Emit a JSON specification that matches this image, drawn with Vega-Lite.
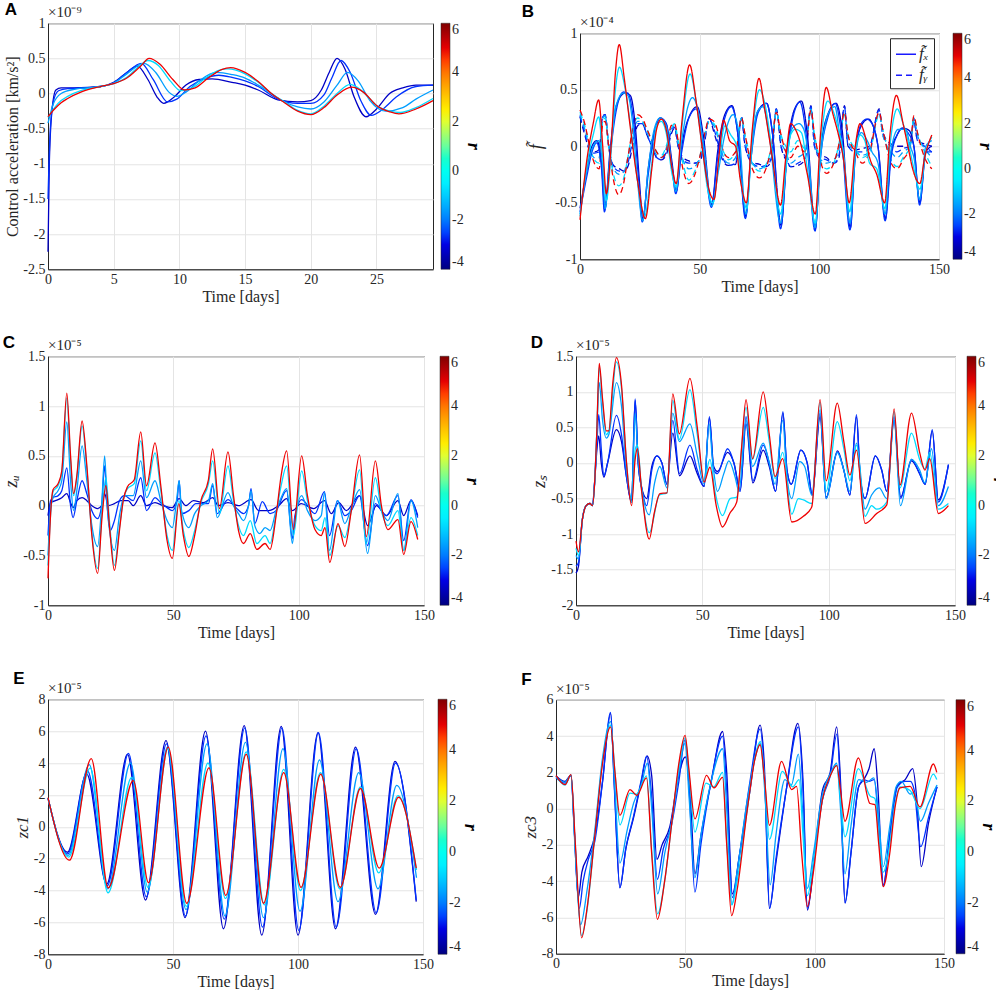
{
  "$schema": "https://vega.github.io/schema/vega-lite/v6.json",
  "background": "white",
  "padding": {"left": 2, "top": 0, "right": 0, "bottom": 0},
  "config": {
    "view": {"stroke": "#262626", "strokeWidth": 1},
    "axis": {
      "labelFont": "Liberation Serif", "labelFontSize": 14, "labelColor": "#262626",
      "titleFont": "Liberation Serif", "titleFontSize": 16, "titleFontWeight": "normal", "titleColor": "#262626",
      "domainColor": "#262626", "ticks": false, "labelPadding": 3, "titlePadding": 2,
      "gridColor": "#e4e4e4", "grid": true, "labelOverlap": false, "labelFlush": false,
      "labelExpr": "replace(format(datum.value, '~g'), '\u2212', '-')"
    },
    "legend": {
      "labelFont": "Liberation Serif", "labelFontSize": 14, "labelColor": "#262626", "labelOffset": 2,
      "titleFont": "Liberation Serif", "titleColor": "black", "titlePadding": 0, "labelOverlap": false
    },
    "title": {"font": "Liberation Sans", "fontSize": 17, "fontWeight": "bold", "anchor": "start", "frame": "bounds", "color": "black", "offset": -14},
    "line": {"strokeWidth": 1.3, "interpolate": "monotone", "clip": true},
    "text": {"font": "Liberation Serif", "fontSize": 15, "color": "#262626", "align": "left", "baseline": "bottom", "dy": -3}
  },
  "datasets": {
    "A": [
      {"r":-3.3,"t":0,"v":-2.25},{"r":-3.3,"t":0.1,"v":-1.0},{"r":-3.3,"t":0.3,"v":-0.25},{"r":-3.3,"t":0.6,"v":0.05},{"r":-3.3,"t":1,"v":0.08},{"r":-3.3,"t":2,"v":0.08},{"r":-3.3,"t":4,"v":0.1},{"r":-3.3,"t":5,"v":0.16},{"r":-3.3,"t":6,"v":0.3},{"r":-3.3,"t":6.8,"v":0.39},{"r":-3.3,"t":7.6,"v":0.2},{"r":-3.3,"t":8.3,"v":-0.05},{"r":-3.3,"t":8.8,"v":-0.14},{"r":-3.3,"t":9.6,"v":-0.05},{"r":-3.3,"t":10.5,"v":0.12},{"r":-3.3,"t":11.5,"v":0.2},{"r":-3.3,"t":12.5,"v":0.21},{"r":-3.3,"t":14,"v":0.16},{"r":-3.3,"t":15,"v":0.12},{"r":-3.3,"t":16,"v":0.05},{"r":-3.3,"t":17.5,"v":-0.09},{"r":-3.3,"t":19,"v":-0.12},{"r":-3.3,"t":20,"v":-0.1},{"r":-3.3,"t":20.8,"v":0.05},{"r":-3.3,"t":21.4,"v":0.3},{"r":-3.3,"t":22,"v":0.5},{"r":-3.3,"t":22.6,"v":0.35},{"r":-3.3,"t":23.3,"v":-0.05},{"r":-3.3,"t":24.2,"v":-0.33},{"r":-3.3,"t":25,"v":-0.22},{"r":-3.3,"t":26,"v":0},{"r":-3.3,"t":27,"v":0.08},{"r":-3.3,"t":28,"v":0.12},{"r":-3.3,"t":29.3,"v":0.12},
      {"r":-2.6,"t":0,"v":-1.5},{"r":-2.6,"t":0.15,"v":-0.6},{"r":-2.6,"t":0.4,"v":-0.12},{"r":-2.6,"t":0.8,"v":0.04},{"r":-2.6,"t":1.5,"v":0.07},{"r":-2.6,"t":3,"v":0.08},{"r":-2.6,"t":4,"v":0.1},{"r":-2.6,"t":5,"v":0.15},{"r":-2.6,"t":6,"v":0.3},{"r":-2.6,"t":7.1,"v":0.43},{"r":-2.6,"t":8,"v":0.2},{"r":-2.6,"t":9.1,"v":-0.12},{"r":-2.6,"t":9.8,"v":-0.08},{"r":-2.6,"t":10.8,"v":0.1},{"r":-2.6,"t":12,"v":0.22},{"r":-2.6,"t":13,"v":0.26},{"r":-2.6,"t":14,"v":0.23},{"r":-2.6,"t":15,"v":0.18},{"r":-2.6,"t":16,"v":0.1},{"r":-2.6,"t":17.5,"v":-0.08},{"r":-2.6,"t":19,"v":-0.14},{"r":-2.6,"t":20,"v":-0.14},{"r":-2.6,"t":21,"v":-0.02},{"r":-2.6,"t":21.6,"v":0.22},{"r":-2.6,"t":22.3,"v":0.47},{"r":-2.6,"t":23,"v":0.3},{"r":-2.6,"t":23.8,"v":-0.1},{"r":-2.6,"t":24.6,"v":-0.31},{"r":-2.6,"t":25.5,"v":-0.22},{"r":-2.6,"t":26.5,"v":-0.05},{"r":-2.6,"t":28,"v":0.1},{"r":-2.6,"t":29.3,"v":0.12},
      {"r":-1.6,"t":0,"v":-0.42},{"r":-1.6,"t":0.4,"v":-0.15},{"r":-1.6,"t":1,"v":0},{"r":-1.6,"t":2,"v":0.06},{"r":-1.6,"t":4,"v":0.1},{"r":-1.6,"t":5,"v":0.15},{"r":-1.6,"t":6,"v":0.28},{"r":-1.6,"t":7.3,"v":0.43},{"r":-1.6,"t":8.2,"v":0.3},{"r":-1.6,"t":9.2,"v":0.02},{"r":-1.6,"t":9.8,"v":-0.04},{"r":-1.6,"t":10.5,"v":0.02},{"r":-1.6,"t":11.5,"v":0.18},{"r":-1.6,"t":12.8,"v":0.3},{"r":-1.6,"t":14,"v":0.27},{"r":-1.6,"t":15,"v":0.22},{"r":-1.6,"t":16,"v":0.12},{"r":-1.6,"t":17,"v":0},{"r":-1.6,"t":18,"v":-0.12},{"r":-1.6,"t":19,"v":-0.19},{"r":-1.6,"t":20,"v":-0.22},{"r":-1.6,"t":21,"v":-0.12},{"r":-1.6,"t":22,"v":0.12},{"r":-1.6,"t":22.8,"v":0.3},{"r":-1.6,"t":23.6,"v":0.18},{"r":-1.6,"t":24.5,"v":-0.1},{"r":-1.6,"t":25.7,"v":-0.25},{"r":-1.6,"t":27,"v":-0.2},{"r":-1.6,"t":28,"v":-0.08},{"r":-1.6,"t":29.3,"v":0.05},
      {"r":-0.8,"t":0,"v":-0.34},{"r":-0.8,"t":0.5,"v":-0.2},{"r":-0.8,"t":1,"v":-0.1},{"r":-0.8,"t":1.5,"v":-0.04},{"r":-0.8,"t":2.5,"v":0.04},{"r":-0.8,"t":4,"v":0.1},{"r":-0.8,"t":5,"v":0.14},{"r":-0.8,"t":6,"v":0.23},{"r":-0.8,"t":7,"v":0.4},{"r":-0.8,"t":7.6,"v":0.47},{"r":-0.8,"t":8.4,"v":0.4},{"r":-0.8,"t":9.3,"v":0.18},{"r":-0.8,"t":10.1,"v":0.04},{"r":-0.8,"t":11,"v":0.08},{"r":-0.8,"t":12,"v":0.22},{"r":-0.8,"t":13,"v":0.33},{"r":-0.8,"t":13.7,"v":0.35},{"r":-0.8,"t":15,"v":0.28},{"r":-0.8,"t":16,"v":0.16},{"r":-0.8,"t":17,"v":0},{"r":-0.8,"t":18,"v":-0.12},{"r":-0.8,"t":19,"v":-0.24},{"r":-0.8,"t":20,"v":-0.29},{"r":-0.8,"t":21,"v":-0.18},{"r":-0.8,"t":22,"v":0},{"r":-0.8,"t":23,"v":0.13},{"r":-0.8,"t":24,"v":0.02},{"r":-0.8,"t":25,"v":-0.17},{"r":-0.8,"t":26,"v":-0.25},{"r":-0.8,"t":26.8,"v":-0.27},{"r":-0.8,"t":28,"v":-0.2},{"r":-0.8,"t":29.3,"v":-0.07},
      {"r":4.9,"t":0,"v":-0.33},{"r":4.9,"t":0.5,"v":-0.22},{"r":4.9,"t":1,"v":-0.13},{"r":4.9,"t":1.5,"v":-0.07},{"r":4.9,"t":2.5,"v":0.02},{"r":4.9,"t":4,"v":0.1},{"r":4.9,"t":5,"v":0.14},{"r":4.9,"t":6,"v":0.22},{"r":4.9,"t":7,"v":0.38},{"r":4.9,"t":7.7,"v":0.5},{"r":4.9,"t":8.5,"v":0.42},{"r":4.9,"t":9.5,"v":0.2},{"r":4.9,"t":10.4,"v":0.05},{"r":4.9,"t":11.2,"v":0.08},{"r":4.9,"t":12.2,"v":0.22},{"r":4.9,"t":13.2,"v":0.34},{"r":4.9,"t":13.9,"v":0.37},{"r":4.9,"t":15,"v":0.3},{"r":4.9,"t":16,"v":0.17},{"r":4.9,"t":17,"v":0},{"r":4.9,"t":18,"v":-0.13},{"r":4.9,"t":19,"v":-0.25},{"r":4.9,"t":20,"v":-0.3},{"r":4.9,"t":21,"v":-0.2},{"r":4.9,"t":22,"v":-0.02},{"r":4.9,"t":23.1,"v":0.09},{"r":4.9,"t":24,"v":0.02},{"r":4.9,"t":25,"v":-0.17},{"r":4.9,"t":26,"v":-0.26},{"r":4.9,"t":26.7,"v":-0.29},{"r":4.9,"t":28,"v":-0.22},{"r":4.9,"t":29.3,"v":-0.1}
    ],
    "B": [
      {"k":"y","r":-3.3,"t":0,"v":0.26},{"k":"y","r":-3.3,"t":2,"v":0.1},{"k":"y","r":-3.3,"t":4,"v":-0.03},{"k":"y","r":-3.3,"t":6,"v":-0.05},{"k":"y","r":-3.3,"t":8,"v":-0.03},{"k":"y","r":-3.3,"t":9.5,"v":0.27},{"k":"y","r":-3.3,"t":10.5,"v":0.28},{"k":"y","r":-3.3,"t":12,"v":0},{"k":"y","r":-3.3,"t":14,"v":-0.17},{"k":"y","r":-3.3,"t":16.5,"v":-0.2},{"k":"y","r":-3.3,"t":18.5,"v":-0.22},{"k":"y","r":-3.3,"t":20,"v":-0.18},{"k":"y","r":-3.3,"t":22,"v":0},{"k":"y","r":-3.3,"t":24,"v":0.18},{"k":"y","r":-3.3,"t":26,"v":0.2},{"k":"y","r":-3.3,"t":28,"v":0.1},{"k":"y","r":-3.3,"t":30,"v":0},{"k":"y","r":-3.3,"t":32,"v":-0.1},{"k":"y","r":-3.3,"t":34,"v":-0.12},{"k":"y","r":-3.3,"t":36,"v":-0.08},{"k":"y","r":-3.3,"t":38,"v":0.1},{"k":"y","r":-3.3,"t":39.5,"v":0.16},{"k":"y","r":-3.3,"t":41,"v":0},{"k":"y","r":-3.3,"t":43,"v":-0.1},{"k":"y","r":-3.3,"t":45.5,"v":-0.13},{"k":"y","r":-3.3,"t":48,"v":-0.15},{"k":"y","r":-3.3,"t":50,"v":-0.14},{"k":"y","r":-3.3,"t":52,"v":0.03},{"k":"y","r":-3.3,"t":54,"v":0.25},{"k":"y","r":-3.3,"t":56,"v":0.12},{"k":"y","r":-3.3,"t":58,"v":-0.02},{"k":"y","r":-3.3,"t":60,"v":-0.14},{"k":"y","r":-3.3,"t":62,"v":-0.17},{"k":"y","r":-3.3,"t":65,"v":-0.16},{"k":"y","r":-3.3,"t":67.5,"v":0.26},{"k":"y","r":-3.3,"t":69,"v":0},{"k":"y","r":-3.3,"t":72,"v":-0.14},{"k":"y","r":-3.3,"t":75,"v":-0.16},{"k":"y","r":-3.3,"t":78,"v":-0.18},{"k":"y","r":-3.3,"t":80,"v":-0.12},{"k":"y","r":-3.3,"t":82,"v":0.33},{"k":"y","r":-3.3,"t":84,"v":0},{"k":"y","r":-3.3,"t":86,"v":-0.12},{"k":"y","r":-3.3,"t":88,"v":-0.18},{"k":"y","r":-3.3,"t":91,"v":-0.17},{"k":"y","r":-3.3,"t":94,"v":-0.12},{"k":"y","r":-3.3,"t":96.5,"v":0.36},{"k":"y","r":-3.3,"t":98,"v":0},{"k":"y","r":-3.3,"t":100,"v":-0.08},{"k":"y","r":-3.3,"t":103,"v":-0.1},{"k":"y","r":-3.3,"t":106,"v":-0.15},{"k":"y","r":-3.3,"t":108,"v":-0.12},{"k":"y","r":-3.3,"t":110.5,"v":0.36},{"k":"y","r":-3.3,"t":112,"v":0},{"k":"y","r":-3.3,"t":115,"v":-0.03},{"k":"y","r":-3.3,"t":118,"v":-0.02},{"k":"y","r":-3.3,"t":121,"v":0},{"k":"y","r":-3.3,"t":125,"v":0.33},{"k":"y","r":-3.3,"t":126.5,"v":0.12},{"k":"y","r":-3.3,"t":130,"v":0.02},{"k":"y","r":-3.3,"t":132.5,"v":0},{"k":"y","r":-3.3,"t":135,"v":0},{"k":"y","r":-3.3,"t":138,"v":0.02},{"k":"y","r":-3.3,"t":139.5,"v":0.23},{"k":"y","r":-3.3,"t":141,"v":0.05},{"k":"y","r":-3.3,"t":144,"v":0.02},{"k":"y","r":-3.3,"t":147,"v":0},
      {"k":"y","r":-2.6,"t":0,"v":0.27},{"k":"y","r":-2.6,"t":2,"v":0.12},{"k":"y","r":-2.6,"t":4,"v":-0.03},{"k":"y","r":-2.6,"t":6,"v":-0.06},{"k":"y","r":-2.6,"t":8,"v":-0.05},{"k":"y","r":-2.6,"t":9.5,"v":0.26},{"k":"y","r":-2.6,"t":10.5,"v":0.28},{"k":"y","r":-2.6,"t":12,"v":0},{"k":"y","r":-2.6,"t":14,"v":-0.18},{"k":"y","r":-2.6,"t":16.5,"v":-0.22},{"k":"y","r":-2.6,"t":18.5,"v":-0.22},{"k":"y","r":-2.6,"t":20,"v":-0.15},{"k":"y","r":-2.6,"t":22,"v":0.05},{"k":"y","r":-2.6,"t":24,"v":0.2},{"k":"y","r":-2.6,"t":26,"v":0.2},{"k":"y","r":-2.6,"t":28,"v":0.1},{"k":"y","r":-2.6,"t":30,"v":0},{"k":"y","r":-2.6,"t":32,"v":-0.1},{"k":"y","r":-2.6,"t":34,"v":-0.12},{"k":"y","r":-2.6,"t":36,"v":-0.05},{"k":"y","r":-2.6,"t":38,"v":0.12},{"k":"y","r":-2.6,"t":39.5,"v":0.17},{"k":"y","r":-2.6,"t":41,"v":0},{"k":"y","r":-2.6,"t":43,"v":-0.12},{"k":"y","r":-2.6,"t":45.5,"v":-0.15},{"k":"y","r":-2.6,"t":48,"v":-0.15},{"k":"y","r":-2.6,"t":50,"v":-0.12},{"k":"y","r":-2.6,"t":52,"v":0.05},{"k":"y","r":-2.6,"t":54,"v":0.24},{"k":"y","r":-2.6,"t":56,"v":0.15},{"k":"y","r":-2.6,"t":58,"v":0},{"k":"y","r":-2.6,"t":60,"v":-0.12},{"k":"y","r":-2.6,"t":62,"v":-0.17},{"k":"y","r":-2.6,"t":65,"v":-0.15},{"k":"y","r":-2.6,"t":67.5,"v":0.25},{"k":"y","r":-2.6,"t":69,"v":0},{"k":"y","r":-2.6,"t":72,"v":-0.15},{"k":"y","r":-2.6,"t":75,"v":-0.18},{"k":"y","r":-2.6,"t":78,"v":-0.17},{"k":"y","r":-2.6,"t":80,"v":-0.1},{"k":"y","r":-2.6,"t":82,"v":0.33},{"k":"y","r":-2.6,"t":84,"v":0},{"k":"y","r":-2.6,"t":86,"v":-0.1},{"k":"y","r":-2.6,"t":88,"v":-0.18},{"k":"y","r":-2.6,"t":91,"v":-0.15},{"k":"y","r":-2.6,"t":94,"v":-0.1},{"k":"y","r":-2.6,"t":96.5,"v":0.35},{"k":"y","r":-2.6,"t":98,"v":0},{"k":"y","r":-2.6,"t":100,"v":-0.1},{"k":"y","r":-2.6,"t":103,"v":-0.12},{"k":"y","r":-2.6,"t":106,"v":-0.15},{"k":"y","r":-2.6,"t":108,"v":-0.1},{"k":"y","r":-2.6,"t":110.5,"v":0.35},{"k":"y","r":-2.6,"t":112,"v":0},{"k":"y","r":-2.6,"t":115,"v":-0.05},{"k":"y","r":-2.6,"t":118,"v":-0.05},{"k":"y","r":-2.6,"t":121,"v":-0.02},{"k":"y","r":-2.6,"t":125,"v":0.32},{"k":"y","r":-2.6,"t":126.5,"v":0.1},{"k":"y","r":-2.6,"t":130,"v":0},{"k":"y","r":-2.6,"t":132.5,"v":-0.05},{"k":"y","r":-2.6,"t":135,"v":-0.02},{"k":"y","r":-2.6,"t":138,"v":0},{"k":"y","r":-2.6,"t":139.5,"v":0.24},{"k":"y","r":-2.6,"t":141,"v":0.05},{"k":"y","r":-2.6,"t":144,"v":0},{"k":"y","r":-2.6,"t":147,"v":-0.05},
      {"k":"y","r":-1.6,"t":0,"v":0.28},{"k":"y","r":-1.6,"t":2,"v":0.15},{"k":"y","r":-1.6,"t":4,"v":-0.02},{"k":"y","r":-1.6,"t":6,"v":-0.1},{"k":"y","r":-1.6,"t":8,"v":-0.1},{"k":"y","r":-1.6,"t":9.5,"v":0.25},{"k":"y","r":-1.6,"t":10.5,"v":0.27},{"k":"y","r":-1.6,"t":12,"v":0},{"k":"y","r":-1.6,"t":14,"v":-0.2},{"k":"y","r":-1.6,"t":16.5,"v":-0.25},{"k":"y","r":-1.6,"t":18.5,"v":-0.22},{"k":"y","r":-1.6,"t":20,"v":-0.1},{"k":"y","r":-1.6,"t":22,"v":0.1},{"k":"y","r":-1.6,"t":24,"v":0.22},{"k":"y","r":-1.6,"t":26,"v":0.22},{"k":"y","r":-1.6,"t":28,"v":0.12},{"k":"y","r":-1.6,"t":30,"v":0.02},{"k":"y","r":-1.6,"t":32,"v":-0.08},{"k":"y","r":-1.6,"t":34,"v":-0.1},{"k":"y","r":-1.6,"t":36,"v":-0.02},{"k":"y","r":-1.6,"t":38,"v":0.15},{"k":"y","r":-1.6,"t":39.5,"v":0.18},{"k":"y","r":-1.6,"t":41,"v":0.02},{"k":"y","r":-1.6,"t":43,"v":-0.12},{"k":"y","r":-1.6,"t":45.5,"v":-0.2},{"k":"y","r":-1.6,"t":48,"v":-0.18},{"k":"y","r":-1.6,"t":50,"v":-0.1},{"k":"y","r":-1.6,"t":52,"v":0.08},{"k":"y","r":-1.6,"t":54,"v":0.22},{"k":"y","r":-1.6,"t":56,"v":0.18},{"k":"y","r":-1.6,"t":58,"v":0.05},{"k":"y","r":-1.6,"t":60,"v":-0.1},{"k":"y","r":-1.6,"t":62,"v":-0.15},{"k":"y","r":-1.6,"t":65,"v":-0.1},{"k":"y","r":-1.6,"t":67.5,"v":0.25},{"k":"y","r":-1.6,"t":69,"v":0.05},{"k":"y","r":-1.6,"t":72,"v":-0.15},{"k":"y","r":-1.6,"t":75,"v":-0.2},{"k":"y","r":-1.6,"t":78,"v":-0.15},{"k":"y","r":-1.6,"t":80,"v":-0.05},{"k":"y","r":-1.6,"t":82,"v":0.32},{"k":"y","r":-1.6,"t":84,"v":0.05},{"k":"y","r":-1.6,"t":86,"v":-0.05},{"k":"y","r":-1.6,"t":88,"v":-0.15},{"k":"y","r":-1.6,"t":91,"v":-0.1},{"k":"y","r":-1.6,"t":94,"v":-0.05},{"k":"y","r":-1.6,"t":96.5,"v":0.33},{"k":"y","r":-1.6,"t":98,"v":0.05},{"k":"y","r":-1.6,"t":100,"v":-0.1},{"k":"y","r":-1.6,"t":103,"v":-0.15},{"k":"y","r":-1.6,"t":106,"v":-0.12},{"k":"y","r":-1.6,"t":108,"v":-0.05},{"k":"y","r":-1.6,"t":110.5,"v":0.3},{"k":"y","r":-1.6,"t":112,"v":0.05},{"k":"y","r":-1.6,"t":115,"v":-0.05},{"k":"y","r":-1.6,"t":118,"v":-0.08},{"k":"y","r":-1.6,"t":121,"v":-0.05},{"k":"y","r":-1.6,"t":125,"v":0.3},{"k":"y","r":-1.6,"t":126.5,"v":0.1},{"k":"y","r":-1.6,"t":130,"v":-0.05},{"k":"y","r":-1.6,"t":132.5,"v":-0.1},{"k":"y","r":-1.6,"t":135,"v":-0.05},{"k":"y","r":-1.6,"t":138,"v":0},{"k":"y","r":-1.6,"t":139.5,"v":0.25},{"k":"y","r":-1.6,"t":141,"v":0.1},{"k":"y","r":-1.6,"t":144,"v":-0.02},{"k":"y","r":-1.6,"t":147,"v":-0.1},
      {"k":"y","r":-0.8,"t":0,"v":0.3},{"k":"y","r":-0.8,"t":2,"v":0.18},{"k":"y","r":-0.8,"t":4,"v":0},{"k":"y","r":-0.8,"t":6,"v":-0.12},{"k":"y","r":-0.8,"t":8,"v":-0.15},{"k":"y","r":-0.8,"t":9.5,"v":0.22},{"k":"y","r":-0.8,"t":10.5,"v":0.25},{"k":"y","r":-0.8,"t":12,"v":0},{"k":"y","r":-0.8,"t":14,"v":-0.25},{"k":"y","r":-0.8,"t":16.2,"v":-0.35},{"k":"y","r":-0.8,"t":18,"v":-0.3},{"k":"y","r":-0.8,"t":20,"v":-0.1},{"k":"y","r":-0.8,"t":22,"v":0.15},{"k":"y","r":-0.8,"t":24,"v":0.25},{"k":"y","r":-0.8,"t":26,"v":0.22},{"k":"y","r":-0.8,"t":28,"v":0.15},{"k":"y","r":-0.8,"t":30,"v":0.05},{"k":"y","r":-0.8,"t":32,"v":-0.05},{"k":"y","r":-0.8,"t":34,"v":-0.08},{"k":"y","r":-0.8,"t":36,"v":0},{"k":"y","r":-0.8,"t":38,"v":0.15},{"k":"y","r":-0.8,"t":39.5,"v":0.2},{"k":"y","r":-0.8,"t":41,"v":0.05},{"k":"y","r":-0.8,"t":43,"v":-0.15},{"k":"y","r":-0.8,"t":45.5,"v":-0.3},{"k":"y","r":-0.8,"t":48,"v":-0.22},{"k":"y","r":-0.8,"t":50,"v":-0.1},{"k":"y","r":-0.8,"t":52,"v":0.1},{"k":"y","r":-0.8,"t":54,"v":0.22},{"k":"y","r":-0.8,"t":56,"v":0.2},{"k":"y","r":-0.8,"t":58,"v":0.08},{"k":"y","r":-0.8,"t":60,"v":-0.05},{"k":"y","r":-0.8,"t":62,"v":-0.12},{"k":"y","r":-0.8,"t":65,"v":-0.05},{"k":"y","r":-0.8,"t":67.5,"v":0.25},{"k":"y","r":-0.8,"t":69,"v":0.1},{"k":"y","r":-0.8,"t":72,"v":-0.15},{"k":"y","r":-0.8,"t":75,"v":-0.22},{"k":"y","r":-0.8,"t":78,"v":-0.15},{"k":"y","r":-0.8,"t":80,"v":0},{"k":"y","r":-0.8,"t":82,"v":0.3},{"k":"y","r":-0.8,"t":84,"v":0.1},{"k":"y","r":-0.8,"t":86,"v":0},{"k":"y","r":-0.8,"t":88,"v":-0.05},{"k":"y","r":-0.8,"t":91,"v":0.05},{"k":"y","r":-0.8,"t":94,"v":-0.02},{"k":"y","r":-0.8,"t":96.5,"v":0.3},{"k":"y","r":-0.8,"t":98,"v":0.1},{"k":"y","r":-0.8,"t":100,"v":-0.1},{"k":"y","r":-0.8,"t":103,"v":-0.2},{"k":"y","r":-0.8,"t":106,"v":-0.15},{"k":"y","r":-0.8,"t":108,"v":0},{"k":"y","r":-0.8,"t":110.5,"v":0.28},{"k":"y","r":-0.8,"t":112,"v":0.1},{"k":"y","r":-0.8,"t":115,"v":-0.02},{"k":"y","r":-0.8,"t":118,"v":-0.1},{"k":"y","r":-0.8,"t":121,"v":-0.05},{"k":"y","r":-0.8,"t":125,"v":0.28},{"k":"y","r":-0.8,"t":126.5,"v":0.15},{"k":"y","r":-0.8,"t":130,"v":-0.12},{"k":"y","r":-0.8,"t":132.5,"v":-0.18},{"k":"y","r":-0.8,"t":135,"v":-0.1},{"k":"y","r":-0.8,"t":138,"v":0},{"k":"y","r":-0.8,"t":139.5,"v":0.25},{"k":"y","r":-0.8,"t":141,"v":0.12},{"k":"y","r":-0.8,"t":144,"v":-0.05},{"k":"y","r":-0.8,"t":147,"v":-0.18},
      {"k":"y","r":4.9,"t":0,"v":0.32},{"k":"y","r":4.9,"t":2,"v":0.2},{"k":"y","r":4.9,"t":4,"v":0},{"k":"y","r":4.9,"t":6,"v":-0.15},{"k":"y","r":4.9,"t":8,"v":-0.2},{"k":"y","r":4.9,"t":9.5,"v":0.2},{"k":"y","r":4.9,"t":10.5,"v":0.22},{"k":"y","r":4.9,"t":12,"v":0},{"k":"y","r":4.9,"t":14,"v":-0.3},{"k":"y","r":4.9,"t":16.2,"v":-0.43},{"k":"y","r":4.9,"t":18,"v":-0.35},{"k":"y","r":4.9,"t":20,"v":-0.1},{"k":"y","r":4.9,"t":22,"v":0.15},{"k":"y","r":4.9,"t":24,"v":0.28},{"k":"y","r":4.9,"t":26,"v":0.25},{"k":"y","r":4.9,"t":28,"v":0.15},{"k":"y","r":4.9,"t":30,"v":0.05},{"k":"y","r":4.9,"t":32,"v":-0.05},{"k":"y","r":4.9,"t":34,"v":-0.1},{"k":"y","r":4.9,"t":36,"v":-0.05},{"k":"y","r":4.9,"t":38,"v":0.18},{"k":"y","r":4.9,"t":39.5,"v":0.2},{"k":"y","r":4.9,"t":41,"v":0.05},{"k":"y","r":4.9,"t":43,"v":-0.2},{"k":"y","r":4.9,"t":45.5,"v":-0.33},{"k":"y","r":4.9,"t":48,"v":-0.25},{"k":"y","r":4.9,"t":50,"v":-0.1},{"k":"y","r":4.9,"t":52,"v":0.1},{"k":"y","r":4.9,"t":54,"v":0.24},{"k":"y","r":4.9,"t":56,"v":0.22},{"k":"y","r":4.9,"t":58,"v":0.1},{"k":"y","r":4.9,"t":60,"v":-0.05},{"k":"y","r":4.9,"t":62,"v":-0.1},{"k":"y","r":4.9,"t":65,"v":-0.05},{"k":"y","r":4.9,"t":67.5,"v":0.25},{"k":"y","r":4.9,"t":69,"v":0.1},{"k":"y","r":4.9,"t":72,"v":-0.2},{"k":"y","r":4.9,"t":75,"v":-0.28},{"k":"y","r":4.9,"t":78,"v":-0.18},{"k":"y","r":4.9,"t":80,"v":0},{"k":"y","r":4.9,"t":82,"v":0.3},{"k":"y","r":4.9,"t":84,"v":0.1},{"k":"y","r":4.9,"t":86,"v":-0.05},{"k":"y","r":4.9,"t":88,"v":-0.1},{"k":"y","r":4.9,"t":91,"v":0},{"k":"y","r":4.9,"t":94,"v":-0.05},{"k":"y","r":4.9,"t":96.5,"v":0.32},{"k":"y","r":4.9,"t":98,"v":0.1},{"k":"y","r":4.9,"t":100,"v":-0.1},{"k":"y","r":4.9,"t":103,"v":-0.24},{"k":"y","r":4.9,"t":106,"v":-0.15},{"k":"y","r":4.9,"t":108,"v":0},{"k":"y","r":4.9,"t":110.5,"v":0.3},{"k":"y","r":4.9,"t":112,"v":0.1},{"k":"y","r":4.9,"t":115,"v":-0.05},{"k":"y","r":4.9,"t":118,"v":-0.15},{"k":"y","r":4.9,"t":121,"v":-0.05},{"k":"y","r":4.9,"t":125,"v":0.3},{"k":"y","r":4.9,"t":126.5,"v":0.15},{"k":"y","r":4.9,"t":130,"v":-0.15},{"k":"y","r":4.9,"t":132.5,"v":-0.2},{"k":"y","r":4.9,"t":135,"v":-0.12},{"k":"y","r":4.9,"t":138,"v":0},{"k":"y","r":4.9,"t":139.5,"v":0.27},{"k":"y","r":4.9,"t":141,"v":0.12},{"k":"y","r":4.9,"t":144,"v":-0.1},{"k":"y","r":4.9,"t":147,"v":-0.2},
      {"k":"x","r":-3.3,"t":0,"v":-0.55},{"k":"x","r":-3.3,"t":3,"v":-0.2},{"k":"x","r":-3.3,"t":5,"v":0},{"k":"x","r":-3.3,"t":7,"v":0.05},{"k":"x","r":-3.3,"t":9,"v":-0.15},{"k":"x","r":-3.3,"t":10.4,"v":-0.55},{"k":"x","r":-3.3,"t":12.5,"v":-0.05},{"k":"x","r":-3.3,"t":15,"v":0.35},{"k":"x","r":-3.3,"t":18.8,"v":0.47},{"k":"x","r":-3.3,"t":21,"v":0.45},{"k":"x","r":-3.3,"t":23,"v":0.2},{"k":"x","r":-3.3,"t":24.8,"v":-0.3},{"k":"x","r":-3.3,"t":26.3,"v":-0.65},{"k":"x","r":-3.3,"t":28.5,"v":-0.2},{"k":"x","r":-3.3,"t":31,"v":0.12},{"k":"x","r":-3.3,"t":33.5,"v":0.25},{"k":"x","r":-3.3,"t":36,"v":0.2},{"k":"x","r":-3.3,"t":38.5,"v":-0.15},{"k":"x","r":-3.3,"t":40.2,"v":-0.4},{"k":"x","r":-3.3,"t":42.5,"v":0},{"k":"x","r":-3.3,"t":46,"v":0.28},{"k":"x","r":-3.3,"t":49,"v":0.35},{"k":"x","r":-3.3,"t":51.5,"v":0.1},{"k":"x","r":-3.3,"t":55,"v":-0.52},{"k":"x","r":-3.3,"t":57.5,"v":-0.05},{"k":"x","r":-3.3,"t":60.5,"v":0.28},{"k":"x","r":-3.3,"t":63.5,"v":0.36},{"k":"x","r":-3.3,"t":66,"v":0.1},{"k":"x","r":-3.3,"t":69.2,"v":-0.62},{"k":"x","r":-3.3,"t":71.5,"v":-0.05},{"k":"x","r":-3.3,"t":74.5,"v":0.32},{"k":"x","r":-3.3,"t":78,"v":0.38},{"k":"x","r":-3.3,"t":80.5,"v":0.1},{"k":"x","r":-3.3,"t":84,"v":-0.7},{"k":"x","r":-3.3,"t":86.5,"v":-0.05},{"k":"x","r":-3.3,"t":89.5,"v":0.32},{"k":"x","r":-3.3,"t":92.5,"v":0.4},{"k":"x","r":-3.3,"t":95,"v":0.1},{"k":"x","r":-3.3,"t":98.3,"v":-0.73},{"k":"x","r":-3.3,"t":100.5,"v":-0.05},{"k":"x","r":-3.3,"t":103.5,"v":0.28},{"k":"x","r":-3.3,"t":107,"v":0.38},{"k":"x","r":-3.3,"t":109.5,"v":0.15},{"k":"x","r":-3.3,"t":113,"v":-0.72},{"k":"x","r":-3.3,"t":115,"v":-0.05},{"k":"x","r":-3.3,"t":117.5,"v":0.18},{"k":"x","r":-3.3,"t":120.5,"v":0.24},{"k":"x","r":-3.3,"t":122.5,"v":0.18},{"k":"x","r":-3.3,"t":124.5,"v":0},{"k":"x","r":-3.3,"t":127.6,"v":-0.64},{"k":"x","r":-3.3,"t":130,"v":-0.05},{"k":"x","r":-3.3,"t":132.5,"v":0.1},{"k":"x","r":-3.3,"t":135,"v":0.16},{"k":"x","r":-3.3,"t":137.5,"v":0.14},{"k":"x","r":-3.3,"t":139.5,"v":0},{"k":"x","r":-3.3,"t":142,"v":-0.5},{"k":"x","r":-3.3,"t":144.5,"v":-0.05},{"k":"x","r":-3.3,"t":147,"v":0},
      {"k":"x","r":-2.6,"t":0,"v":-0.58},{"k":"x","r":-2.6,"t":3,"v":-0.25},{"k":"x","r":-2.6,"t":5,"v":-0.05},{"k":"x","r":-2.6,"t":7,"v":0.03},{"k":"x","r":-2.6,"t":9,"v":-0.2},{"k":"x","r":-2.6,"t":10.2,"v":-0.58},{"k":"x","r":-2.6,"t":12.5,"v":-0.1},{"k":"x","r":-2.6,"t":15,"v":0.3},{"k":"x","r":-2.6,"t":18.2,"v":0.48},{"k":"x","r":-2.6,"t":20,"v":0.47},{"k":"x","r":-2.6,"t":22.5,"v":0.2},{"k":"x","r":-2.6,"t":24.5,"v":-0.3},{"k":"x","r":-2.6,"t":26,"v":-0.67},{"k":"x","r":-2.6,"t":28.5,"v":-0.25},{"k":"x","r":-2.6,"t":31,"v":0.1},{"k":"x","r":-2.6,"t":33.5,"v":0.25},{"k":"x","r":-2.6,"t":36,"v":0.2},{"k":"x","r":-2.6,"t":38.5,"v":-0.2},{"k":"x","r":-2.6,"t":40,"v":-0.42},{"k":"x","r":-2.6,"t":42.5,"v":-0.05},{"k":"x","r":-2.6,"t":45.5,"v":0.25},{"k":"x","r":-2.6,"t":48.6,"v":0.33},{"k":"x","r":-2.6,"t":51,"v":0.1},{"k":"x","r":-2.6,"t":54.9,"v":-0.54},{"k":"x","r":-2.6,"t":57.5,"v":-0.1},{"k":"x","r":-2.6,"t":60.5,"v":0.25},{"k":"x","r":-2.6,"t":63.3,"v":0.35},{"k":"x","r":-2.6,"t":66,"v":0.1},{"k":"x","r":-2.6,"t":69.1,"v":-0.64},{"k":"x","r":-2.6,"t":71.5,"v":-0.1},{"k":"x","r":-2.6,"t":74.5,"v":0.3},{"k":"x","r":-2.6,"t":77.9,"v":0.38},{"k":"x","r":-2.6,"t":80.5,"v":0.1},{"k":"x","r":-2.6,"t":83.8,"v":-0.73},{"k":"x","r":-2.6,"t":86.5,"v":-0.1},{"k":"x","r":-2.6,"t":89.5,"v":0.3},{"k":"x","r":-2.6,"t":91.9,"v":0.39},{"k":"x","r":-2.6,"t":94.5,"v":0.1},{"k":"x","r":-2.6,"t":98.2,"v":-0.75},{"k":"x","r":-2.6,"t":100.5,"v":-0.1},{"k":"x","r":-2.6,"t":103.5,"v":0.25},{"k":"x","r":-2.6,"t":106.6,"v":0.38},{"k":"x","r":-2.6,"t":109,"v":0.15},{"k":"x","r":-2.6,"t":112.8,"v":-0.74},{"k":"x","r":-2.6,"t":115,"v":-0.1},{"k":"x","r":-2.6,"t":117.5,"v":0.2},{"k":"x","r":-2.6,"t":119.8,"v":0.24},{"k":"x","r":-2.6,"t":122,"v":0.2},{"k":"x","r":-2.6,"t":124.5,"v":0},{"k":"x","r":-2.6,"t":127.5,"v":-0.66},{"k":"x","r":-2.6,"t":130,"v":-0.1},{"k":"x","r":-2.6,"t":132.5,"v":0.1},{"k":"x","r":-2.6,"t":134.5,"v":0.16},{"k":"x","r":-2.6,"t":137,"v":0.12},{"k":"x","r":-2.6,"t":139.5,"v":0},{"k":"x","r":-2.6,"t":141.9,"v":-0.52},{"k":"x","r":-2.6,"t":144.5,"v":-0.05},{"k":"x","r":-2.6,"t":147,"v":-0.05},
      {"k":"x","r":-1.6,"t":0,"v":-0.6},{"k":"x","r":-1.6,"t":3,"v":-0.2},{"k":"x","r":-1.6,"t":5.5,"v":0},{"k":"x","r":-1.6,"t":7.8,"v":0.05},{"k":"x","r":-1.6,"t":9.5,"v":-0.2},{"k":"x","r":-1.6,"t":10.5,"v":-0.55},{"k":"x","r":-1.6,"t":12.5,"v":-0.1},{"k":"x","r":-1.6,"t":15,"v":0.35},{"k":"x","r":-1.6,"t":18,"v":0.47},{"k":"x","r":-1.6,"t":20,"v":0.45},{"k":"x","r":-1.6,"t":22,"v":0.2},{"k":"x","r":-1.6,"t":24,"v":-0.3},{"k":"x","r":-1.6,"t":26.2,"v":-0.66},{"k":"x","r":-1.6,"t":28.5,"v":-0.2},{"k":"x","r":-1.6,"t":31,"v":0.15},{"k":"x","r":-1.6,"t":33.5,"v":0.25},{"k":"x","r":-1.6,"t":36,"v":0.18},{"k":"x","r":-1.6,"t":38.5,"v":-0.2},{"k":"x","r":-1.6,"t":40,"v":-0.4},{"k":"x","r":-1.6,"t":42.5,"v":0.05},{"k":"x","r":-1.6,"t":47,"v":0.43},{"k":"x","r":-1.6,"t":49.5,"v":0.3},{"k":"x","r":-1.6,"t":52,"v":-0.05},{"k":"x","r":-1.6,"t":55,"v":-0.53},{"k":"x","r":-1.6,"t":58,"v":-0.2},{"k":"x","r":-1.6,"t":60.5,"v":0.1},{"k":"x","r":-1.6,"t":64,"v":0.28},{"k":"x","r":-1.6,"t":66.5,"v":0.1},{"k":"x","r":-1.6,"t":69.3,"v":-0.6},{"k":"x","r":-1.6,"t":71.5,"v":-0.1},{"k":"x","r":-1.6,"t":74,"v":0.3},{"k":"x","r":-1.6,"t":76.5,"v":0.35},{"k":"x","r":-1.6,"t":79,"v":0.1},{"k":"x","r":-1.6,"t":83.8,"v":-0.68},{"k":"x","r":-1.6,"t":86,"v":-0.2},{"k":"x","r":-1.6,"t":88.5,"v":0.15},{"k":"x","r":-1.6,"t":91.5,"v":0.2},{"k":"x","r":-1.6,"t":93.5,"v":0.15},{"k":"x","r":-1.6,"t":95.5,"v":-0.1},{"k":"x","r":-1.6,"t":98.2,"v":-0.72},{"k":"x","r":-1.6,"t":100.5,"v":-0.1},{"k":"x","r":-1.6,"t":104,"v":0.3},{"k":"x","r":-1.6,"t":106.5,"v":0.35},{"k":"x","r":-1.6,"t":108.5,"v":0.1},{"k":"x","r":-1.6,"t":110,"v":-0.1},{"k":"x","r":-1.6,"t":112.8,"v":-0.68},{"k":"x","r":-1.6,"t":115,"v":-0.1},{"k":"x","r":-1.6,"t":117.5,"v":0.12},{"k":"x","r":-1.6,"t":120,"v":0.05},{"k":"x","r":-1.6,"t":122,"v":-0.05},{"k":"x","r":-1.6,"t":124.5,"v":-0.15},{"k":"x","r":-1.6,"t":127.5,"v":-0.6},{"k":"x","r":-1.6,"t":129.5,"v":-0.1},{"k":"x","r":-1.6,"t":133,"v":0.15},{"k":"x","r":-1.6,"t":136,"v":0.15},{"k":"x","r":-1.6,"t":138,"v":0},{"k":"x","r":-1.6,"t":139.5,"v":-0.1},{"k":"x","r":-1.6,"t":141.9,"v":-0.47},{"k":"x","r":-1.6,"t":144.5,"v":0},{"k":"x","r":-1.6,"t":147,"v":0.05},
      {"k":"x","r":-0.8,"t":0,"v":-0.62},{"k":"x","r":-0.8,"t":3,"v":-0.15},{"k":"x","r":-0.8,"t":5.5,"v":0.1},{"k":"x","r":-0.8,"t":7.8,"v":0.26},{"k":"x","r":-0.8,"t":9.5,"v":-0.1},{"k":"x","r":-0.8,"t":11,"v":-0.48},{"k":"x","r":-0.8,"t":13,"v":-0.05},{"k":"x","r":-0.8,"t":14.8,"v":0.5},{"k":"x","r":-0.8,"t":16.5,"v":0.7},{"k":"x","r":-0.8,"t":18.5,"v":0.55},{"k":"x","r":-0.8,"t":21,"v":0.2},{"k":"x","r":-0.8,"t":24,"v":-0.3},{"k":"x","r":-0.8,"t":27,"v":-0.62},{"k":"x","r":-0.8,"t":30,"v":-0.15},{"k":"x","r":-0.8,"t":32,"v":0.18},{"k":"x","r":-0.8,"t":34,"v":0.22},{"k":"x","r":-0.8,"t":36,"v":0.12},{"k":"x","r":-0.8,"t":38.5,"v":-0.25},{"k":"x","r":-0.8,"t":40.2,"v":-0.36},{"k":"x","r":-0.8,"t":42.5,"v":0.15},{"k":"x","r":-0.8,"t":46,"v":0.64},{"k":"x","r":-0.8,"t":48.5,"v":0.4},{"k":"x","r":-0.8,"t":51,"v":0},{"k":"x","r":-0.8,"t":53.5,"v":-0.4},{"k":"x","r":-0.8,"t":55.5,"v":-0.5},{"k":"x","r":-0.8,"t":58,"v":-0.15},{"k":"x","r":-0.8,"t":60.5,"v":0.18},{"k":"x","r":-0.8,"t":63,"v":0.1},{"k":"x","r":-0.8,"t":65.5,"v":0},{"k":"x","r":-0.8,"t":67.5,"v":-0.35},{"k":"x","r":-0.8,"t":69.7,"v":-0.55},{"k":"x","r":-0.8,"t":72,"v":0.1},{"k":"x","r":-0.8,"t":75,"v":0.5},{"k":"x","r":-0.8,"t":77.5,"v":0.35},{"k":"x","r":-0.8,"t":80,"v":0},{"k":"x","r":-0.8,"t":83.8,"v":-0.6},{"k":"x","r":-0.8,"t":86,"v":-0.2},{"k":"x","r":-0.8,"t":88,"v":0.1},{"k":"x","r":-0.8,"t":90,"v":0.15},{"k":"x","r":-0.8,"t":92.5,"v":0.12},{"k":"x","r":-0.8,"t":95,"v":-0.2},{"k":"x","r":-0.8,"t":98.3,"v":-0.68},{"k":"x","r":-0.8,"t":100.5,"v":0},{"k":"x","r":-0.8,"t":103.5,"v":0.4},{"k":"x","r":-0.8,"t":106,"v":0.3},{"k":"x","r":-0.8,"t":108,"v":0.15},{"k":"x","r":-0.8,"t":110,"v":-0.05},{"k":"x","r":-0.8,"t":112.7,"v":-0.58},{"k":"x","r":-0.8,"t":115,"v":-0.05},{"k":"x","r":-0.8,"t":117,"v":0.1},{"k":"x","r":-0.8,"t":119,"v":0.05},{"k":"x","r":-0.8,"t":121,"v":-0.15},{"k":"x","r":-0.8,"t":124,"v":-0.2},{"k":"x","r":-0.8,"t":127.4,"v":-0.55},{"k":"x","r":-0.8,"t":129.5,"v":0},{"k":"x","r":-0.8,"t":132.5,"v":0.33},{"k":"x","r":-0.8,"t":135,"v":0.2},{"k":"x","r":-0.8,"t":137,"v":0.05},{"k":"x","r":-0.8,"t":139,"v":-0.15},{"k":"x","r":-0.8,"t":142,"v":-0.38},{"k":"x","r":-0.8,"t":144.5,"v":-0.05},{"k":"x","r":-0.8,"t":147,"v":0.08},
      {"k":"x","r":4.9,"t":0,"v":-0.65},{"k":"x","r":4.9,"t":3,"v":-0.1},{"k":"x","r":4.9,"t":5.5,"v":0.2},{"k":"x","r":4.9,"t":7.8,"v":0.41},{"k":"x","r":4.9,"t":9.5,"v":0},{"k":"x","r":4.9,"t":11,"v":-0.42},{"k":"x","r":4.9,"t":13,"v":0},{"k":"x","r":4.9,"t":14.8,"v":0.65},{"k":"x","r":4.9,"t":16.4,"v":0.9},{"k":"x","r":4.9,"t":18.5,"v":0.6},{"k":"x","r":4.9,"t":21,"v":0.17},{"k":"x","r":4.9,"t":24,"v":-0.3},{"k":"x","r":4.9,"t":27.3,"v":-0.64},{"k":"x","r":4.9,"t":30,"v":-0.2},{"k":"x","r":4.9,"t":32,"v":0.15},{"k":"x","r":4.9,"t":34,"v":0.24},{"k":"x","r":4.9,"t":36,"v":0.15},{"k":"x","r":4.9,"t":38.5,"v":-0.2},{"k":"x","r":4.9,"t":40.2,"v":-0.33},{"k":"x","r":4.9,"t":42.5,"v":0.2},{"k":"x","r":4.9,"t":45.8,"v":0.72},{"k":"x","r":4.9,"t":48.5,"v":0.4},{"k":"x","r":4.9,"t":51,"v":0},{"k":"x","r":4.9,"t":53.5,"v":-0.35},{"k":"x","r":4.9,"t":56,"v":-0.47},{"k":"x","r":4.9,"t":58,"v":-0.1},{"k":"x","r":4.9,"t":60,"v":0.23},{"k":"x","r":4.9,"t":62.5,"v":0.05},{"k":"x","r":4.9,"t":65,"v":0},{"k":"x","r":4.9,"t":67,"v":-0.3},{"k":"x","r":4.9,"t":69.5,"v":-0.5},{"k":"x","r":4.9,"t":72,"v":0.15},{"k":"x","r":4.9,"t":74.8,"v":0.6},{"k":"x","r":4.9,"t":77,"v":0.35},{"k":"x","r":4.9,"t":80,"v":-0.05},{"k":"x","r":4.9,"t":83.8,"v":-0.52},{"k":"x","r":4.9,"t":86,"v":-0.1},{"k":"x","r":4.9,"t":88,"v":0.2},{"k":"x","r":4.9,"t":90,"v":0.15},{"k":"x","r":4.9,"t":92.5,"v":0},{"k":"x","r":4.9,"t":95,"v":-0.25},{"k":"x","r":4.9,"t":98.3,"v":-0.6},{"k":"x","r":4.9,"t":100.5,"v":0.1},{"k":"x","r":4.9,"t":102.9,"v":0.52},{"k":"x","r":4.9,"t":105.5,"v":0.3},{"k":"x","r":4.9,"t":108,"v":0.1},{"k":"x","r":4.9,"t":110,"v":-0.1},{"k":"x","r":4.9,"t":112.5,"v":-0.5},{"k":"x","r":4.9,"t":115,"v":0},{"k":"x","r":4.9,"t":117,"v":0.2},{"k":"x","r":4.9,"t":119,"v":0.1},{"k":"x","r":4.9,"t":121,"v":-0.1},{"k":"x","r":4.9,"t":124,"v":-0.25},{"k":"x","r":4.9,"t":127.3,"v":-0.5},{"k":"x","r":4.9,"t":129.5,"v":0.1},{"k":"x","r":4.9,"t":132.2,"v":0.45},{"k":"x","r":4.9,"t":135,"v":0.2},{"k":"x","r":4.9,"t":137,"v":0},{"k":"x","r":4.9,"t":139,"v":-0.2},{"k":"x","r":4.9,"t":142,"v":-0.33},{"k":"x","r":4.9,"t":144,"v":-0.1},{"k":"x","r":4.9,"t":147,"v":0.1}
    ],
    "C": [
      {"r":-3.3,"t":0,"v":-0.1},{"r":-3.3,"t":1,"v":0.03},{"r":-3.3,"t":3,"v":0.05},{"r":-3.3,"t":5.5,"v":0.08},{"r":-3.3,"t":7.5,"v":0.12},{"r":-3.3,"t":9,"v":0.03},{"r":-3.3,"t":10,"v":-0.02},{"r":-3.3,"t":11.5,"v":0.05},{"r":-3.3,"t":13.6,"v":0.08},{"r":-3.3,"t":15.5,"v":0.05},{"r":-3.3,"t":17.5,"v":0},{"r":-3.3,"t":19.8,"v":-0.03},{"r":-3.3,"t":21.4,"v":0},{"r":-3.3,"t":22.6,"v":0.12},{"r":-3.3,"t":24,"v":0},{"r":-3.3,"t":26.5,"v":0.02},{"r":-3.3,"t":29,"v":0.05},{"r":-3.3,"t":32,"v":0.05},{"r":-3.3,"t":34,"v":0},{"r":-3.3,"t":37,"v":0.1},{"r":-3.3,"t":39.3,"v":0},{"r":-3.3,"t":42.7,"v":0.03},{"r":-3.3,"t":46,"v":0},{"r":-3.3,"t":49.6,"v":-0.02},{"r":-3.3,"t":52.3,"v":0.07},{"r":-3.3,"t":55,"v":0},{"r":-3.3,"t":58,"v":0.05},{"r":-3.3,"t":62,"v":0.03},{"r":-3.3,"t":65.7,"v":0.08},{"r":-3.3,"t":68,"v":0},{"r":-3.3,"t":71.8,"v":0.03},{"r":-3.3,"t":76,"v":0},{"r":-3.3,"t":81,"v":0.06},{"r":-3.3,"t":84,"v":-0.05},{"r":-3.3,"t":88,"v":-0.05},{"r":-3.3,"t":92,"v":0},{"r":-3.3,"t":95.2,"v":0.07},{"r":-3.3,"t":97.5,"v":-0.05},{"r":-3.3,"t":101,"v":0.02},{"r":-3.3,"t":106,"v":-0.03},{"r":-3.3,"t":110.3,"v":0.05},{"r":-3.3,"t":113,"v":-0.08},{"r":-3.3,"t":116,"v":0.03},{"r":-3.3,"t":119,"v":-0.05},{"r":-3.3,"t":124.3,"v":0.1},{"r":-3.3,"t":127.5,"v":-0.2},{"r":-3.3,"t":131,"v":0},{"r":-3.3,"t":135,"v":-0.1},{"r":-3.3,"t":139.6,"v":0.05},{"r":-3.3,"t":141.9,"v":-0.1},{"r":-3.3,"t":144.8,"v":0.05},{"r":-3.3,"t":147.5,"v":-0.1},
      {"r":-2.6,"t":0,"v":-0.3},{"r":-2.6,"t":1,"v":0.05},{"r":-2.6,"t":2,"v":0.08},{"r":-2.6,"t":4,"v":0.1},{"r":-2.6,"t":5.5,"v":0.15},{"r":-2.6,"t":7.5,"v":0.38},{"r":-2.6,"t":9,"v":0},{"r":-2.6,"t":10,"v":-0.12},{"r":-2.6,"t":11.5,"v":0.05},{"r":-2.6,"t":13.6,"v":0.25},{"r":-2.6,"t":15.5,"v":0.12},{"r":-2.6,"t":17.5,"v":-0.05},{"r":-2.6,"t":19.8,"v":-0.13},{"r":-2.6,"t":21.4,"v":0},{"r":-2.6,"t":22.6,"v":0.4},{"r":-2.6,"t":23.6,"v":0},{"r":-2.6,"t":24.8,"v":-0.25},{"r":-2.6,"t":26.5,"v":-0.15},{"r":-2.6,"t":28.5,"v":0.05},{"r":-2.6,"t":30.5,"v":0.1},{"r":-2.6,"t":34,"v":0.05},{"r":-2.6,"t":37,"v":0.28},{"r":-2.6,"t":39.3,"v":-0.05},{"r":-2.6,"t":42.7,"v":0.08},{"r":-2.6,"t":45,"v":0.03},{"r":-2.6,"t":47.5,"v":-0.02},{"r":-2.6,"t":49.6,"v":-0.05},{"r":-2.6,"t":51.5,"v":0.05},{"r":-2.6,"t":52.3,"v":0.25},{"r":-2.6,"t":53.3,"v":-0.08},{"r":-2.6,"t":56.2,"v":-0.05},{"r":-2.6,"t":59,"v":0.02},{"r":-2.6,"t":64,"v":0.02},{"r":-2.6,"t":65.7,"v":0.2},{"r":-2.6,"t":67.5,"v":-0.08},{"r":-2.6,"t":71.8,"v":0.06},{"r":-2.6,"t":75,"v":-0.02},{"r":-2.6,"t":78,"v":-0.08},{"r":-2.6,"t":80,"v":0},{"r":-2.6,"t":81,"v":0.17},{"r":-2.6,"t":82.5,"v":-0.18},{"r":-2.6,"t":85.5,"v":0.04},{"r":-2.6,"t":88.6,"v":-0.08},{"r":-2.6,"t":91,"v":-0.05},{"r":-2.6,"t":95.2,"v":0.15},{"r":-2.6,"t":97.5,"v":-0.33},{"r":-2.6,"t":98.5,"v":-0.1},{"r":-2.6,"t":101.2,"v":0.06},{"r":-2.6,"t":106.5,"v":-0.08},{"r":-2.6,"t":110.3,"v":0.14},{"r":-2.6,"t":112.3,"v":-0.3},{"r":-2.6,"t":115.5,"v":0.05},{"r":-2.6,"t":118.4,"v":-0.1},{"r":-2.6,"t":121,"v":-0.05},{"r":-2.6,"t":124.3,"v":0.1},{"r":-2.6,"t":127.5,"v":-0.4},{"r":-2.6,"t":130.6,"v":0.02},{"r":-2.6,"t":135,"v":-0.1},{"r":-2.6,"t":139.6,"v":0.1},{"r":-2.6,"t":141.9,"v":-0.35},{"r":-2.6,"t":144.8,"v":0.06},{"r":-2.6,"t":147.5,"v":-0.12},
      {"r":-1.6,"t":0,"v":-0.5},{"r":-1.6,"t":1,"v":-0.05},{"r":-1.6,"t":2,"v":0.08},{"r":-1.6,"t":4,"v":0.15},{"r":-1.6,"t":5.5,"v":0.25},{"r":-1.6,"t":7.5,"v":0.84},{"r":-1.6,"t":9,"v":0.25},{"r":-1.6,"t":10.2,"v":-0.05},{"r":-1.6,"t":11.5,"v":0.15},{"r":-1.6,"t":13.6,"v":0.6},{"r":-1.6,"t":15.5,"v":0.25},{"r":-1.6,"t":17.5,"v":-0.2},{"r":-1.6,"t":19.8,"v":-0.41},{"r":-1.6,"t":21.4,"v":0},{"r":-1.6,"t":22.6,"v":0.5},{"r":-1.6,"t":23.6,"v":0},{"r":-1.6,"t":24.8,"v":-0.3},{"r":-1.6,"t":26.5,"v":-0.45},{"r":-1.6,"t":28.5,"v":-0.1},{"r":-1.6,"t":30.5,"v":0.1},{"r":-1.6,"t":34,"v":0.1},{"r":-1.6,"t":37,"v":0.45},{"r":-1.6,"t":39.3,"v":0.08},{"r":-1.6,"t":42.7,"v":0.25},{"r":-1.6,"t":45,"v":0.05},{"r":-1.6,"t":47.5,"v":-0.15},{"r":-1.6,"t":49.6,"v":-0.22},{"r":-1.6,"t":51.5,"v":0.1},{"r":-1.6,"t":52.3,"v":0.25},{"r":-1.6,"t":53.3,"v":-0.05},{"r":-1.6,"t":56.2,"v":-0.22},{"r":-1.6,"t":58.5,"v":-0.08},{"r":-1.6,"t":61,"v":0},{"r":-1.6,"t":64,"v":0.05},{"r":-1.6,"t":65.7,"v":0.22},{"r":-1.6,"t":67.5,"v":-0.12},{"r":-1.6,"t":71.8,"v":0.13},{"r":-1.6,"t":74,"v":0},{"r":-1.6,"t":76,"v":-0.08},{"r":-1.6,"t":78,"v":-0.15},{"r":-1.6,"t":80,"v":0},{"r":-1.6,"t":81,"v":0.15},{"r":-1.6,"t":82.5,"v":-0.2},{"r":-1.6,"t":84.5,"v":-0.28},{"r":-1.6,"t":86.6,"v":-0.22},{"r":-1.6,"t":88.6,"v":-0.25},{"r":-1.6,"t":91,"v":-0.05},{"r":-1.6,"t":93,"v":0.08},{"r":-1.6,"t":95.2,"v":0.17},{"r":-1.6,"t":97.5,"v":-0.38},{"r":-1.6,"t":98.5,"v":-0.15},{"r":-1.6,"t":101.2,"v":0.1},{"r":-1.6,"t":103.5,"v":-0.05},{"r":-1.6,"t":106.5,"v":-0.15},{"r":-1.6,"t":109,"v":-0.1},{"r":-1.6,"t":110.3,"v":0.13},{"r":-1.6,"t":112.3,"v":-0.45},{"r":-1.6,"t":115.5,"v":0.05},{"r":-1.6,"t":118.4,"v":-0.18},{"r":-1.6,"t":121,"v":-0.02},{"r":-1.6,"t":124.3,"v":0.16},{"r":-1.6,"t":127.5,"v":-0.48},{"r":-1.6,"t":130.6,"v":0.1},{"r":-1.6,"t":133,"v":-0.05},{"r":-1.6,"t":135.6,"v":-0.15},{"r":-1.6,"t":139.6,"v":0.12},{"r":-1.6,"t":141.9,"v":-0.45},{"r":-1.6,"t":144.8,"v":0.05},{"r":-1.6,"t":147.5,"v":-0.22},
      {"r":-0.8,"t":0,"v":-0.6},{"r":-0.8,"t":1,"v":-0.1},{"r":-0.8,"t":2,"v":0.14},{"r":-0.8,"t":4,"v":0.2},{"r":-0.8,"t":5.5,"v":0.33},{"r":-0.8,"t":7.5,"v":1.08},{"r":-0.8,"t":9,"v":0.45},{"r":-0.8,"t":10.2,"v":0.1},{"r":-0.8,"t":11.5,"v":0.28},{"r":-0.8,"t":13.6,"v":0.8},{"r":-0.8,"t":15.5,"v":0.37},{"r":-0.8,"t":17.5,"v":-0.28},{"r":-0.8,"t":19.8,"v":-0.63},{"r":-0.8,"t":21.6,"v":-0.05},{"r":-0.8,"t":23.1,"v":0.28},{"r":-0.8,"t":24.5,"v":-0.15},{"r":-0.8,"t":26.5,"v":-0.6},{"r":-0.8,"t":28.5,"v":-0.22},{"r":-0.8,"t":30,"v":0.05},{"r":-0.8,"t":31.7,"v":0.17},{"r":-0.8,"t":34.4,"v":0.22},{"r":-0.8,"t":37,"v":0.65},{"r":-0.8,"t":39.3,"v":0.15},{"r":-0.8,"t":42.7,"v":0.53},{"r":-0.8,"t":45,"v":0.15},{"r":-0.8,"t":47.5,"v":-0.3},{"r":-0.8,"t":49.6,"v":-0.45},{"r":-0.8,"t":52.2,"v":0.05},{"r":-0.8,"t":54,"v":-0.25},{"r":-0.8,"t":56.2,"v":-0.42},{"r":-0.8,"t":58.5,"v":-0.25},{"r":-0.8,"t":61,"v":0.03},{"r":-0.8,"t":64,"v":0.22},{"r":-0.8,"t":65.7,"v":0.45},{"r":-0.8,"t":68.4,"v":-0.08},{"r":-0.8,"t":71.8,"v":0.4},{"r":-0.8,"t":74,"v":0.05},{"r":-0.8,"t":76,"v":-0.2},{"r":-0.8,"t":78,"v":-0.3},{"r":-0.8,"t":80.7,"v":-0.15},{"r":-0.8,"t":83.3,"v":-0.38},{"r":-0.8,"t":86.6,"v":-0.3},{"r":-0.8,"t":88.6,"v":-0.38},{"r":-0.8,"t":91,"v":-0.08},{"r":-0.8,"t":93,"v":0.2},{"r":-0.8,"t":95.2,"v":0.4},{"r":-0.8,"t":97.9,"v":-0.3},{"r":-0.8,"t":101.2,"v":0.35},{"r":-0.8,"t":103.5,"v":0.05},{"r":-0.8,"t":106.5,"v":-0.2},{"r":-0.8,"t":109,"v":-0.25},{"r":-0.8,"t":110.5,"v":-0.12},{"r":-0.8,"t":112.4,"v":-0.5},{"r":-0.8,"t":115.7,"v":-0.2},{"r":-0.8,"t":118.4,"v":-0.32},{"r":-0.8,"t":121,"v":-0.05},{"r":-0.8,"t":124.3,"v":0.36},{"r":-0.8,"t":127,"v":-0.38},{"r":-0.8,"t":130.6,"v":0.28},{"r":-0.8,"t":133,"v":-0.05},{"r":-0.8,"t":135.6,"v":-0.2},{"r":-0.8,"t":139.6,"v":-0.05},{"r":-0.8,"t":141.9,"v":-0.45},{"r":-0.8,"t":144.8,"v":-0.12},{"r":-0.8,"t":147.5,"v":-0.3},
      {"r":4.9,"t":0,"v":-0.73},{"r":4.9,"t":1,"v":-0.1},{"r":4.9,"t":2,"v":0.16},{"r":4.9,"t":4,"v":0.22},{"r":4.9,"t":5.5,"v":0.35},{"r":4.9,"t":7.5,"v":1.13},{"r":4.9,"t":9,"v":0.5},{"r":4.9,"t":10.2,"v":0.12},{"r":4.9,"t":11.5,"v":0.3},{"r":4.9,"t":13.6,"v":0.85},{"r":4.9,"t":15.5,"v":0.4},{"r":4.9,"t":17.5,"v":-0.3},{"r":4.9,"t":19.8,"v":-0.68},{"r":4.9,"t":21.6,"v":-0.1},{"r":4.9,"t":23.1,"v":0.2},{"r":4.9,"t":24.5,"v":-0.2},{"r":4.9,"t":26.5,"v":-0.65},{"r":4.9,"t":28.5,"v":-0.25},{"r":4.9,"t":30,"v":0.05},{"r":4.9,"t":31.7,"v":0.19},{"r":4.9,"t":34.4,"v":0.26},{"r":4.9,"t":37,"v":0.74},{"r":4.9,"t":39.3,"v":0.2},{"r":4.9,"t":42.7,"v":0.63},{"r":4.9,"t":45,"v":0.2},{"r":4.9,"t":47.5,"v":-0.35},{"r":4.9,"t":49.6,"v":-0.53},{"r":4.9,"t":52.2,"v":0.02},{"r":4.9,"t":54,"v":-0.3},{"r":4.9,"t":56.2,"v":-0.51},{"r":4.9,"t":58.5,"v":-0.3},{"r":4.9,"t":61,"v":0.05},{"r":4.9,"t":64,"v":0.26},{"r":4.9,"t":65.7,"v":0.57},{"r":4.9,"t":68.4,"v":-0.03},{"r":4.9,"t":71.8,"v":0.54},{"r":4.9,"t":74,"v":0.1},{"r":4.9,"t":76,"v":-0.25},{"r":4.9,"t":78,"v":-0.38},{"r":4.9,"t":80.7,"v":-0.28},{"r":4.9,"t":83.3,"v":-0.44},{"r":4.9,"t":86.6,"v":-0.38},{"r":4.9,"t":88.6,"v":-0.44},{"r":4.9,"t":91,"v":-0.1},{"r":4.9,"t":93,"v":0.3},{"r":4.9,"t":95.2,"v":0.55},{"r":4.9,"t":97.9,"v":-0.24},{"r":4.9,"t":101.2,"v":0.5},{"r":4.9,"t":103.5,"v":0.1},{"r":4.9,"t":106.5,"v":-0.24},{"r":4.9,"t":109,"v":-0.3},{"r":4.9,"t":110.5,"v":-0.22},{"r":4.9,"t":112.4,"v":-0.57},{"r":4.9,"t":115.7,"v":-0.18},{"r":4.9,"t":118.4,"v":-0.41},{"r":4.9,"t":121,"v":-0.05},{"r":4.9,"t":124.3,"v":0.51},{"r":4.9,"t":127,"v":-0.31},{"r":4.9,"t":130.6,"v":0.45},{"r":4.9,"t":133,"v":0},{"r":4.9,"t":135.6,"v":-0.24},{"r":4.9,"t":139.6,"v":-0.14},{"r":4.9,"t":141.9,"v":-0.49},{"r":4.9,"t":144.8,"v":-0.16},{"r":4.9,"t":147.5,"v":-0.34}
    ],
    "D": [
      {"r":-3.3,"t":0,"v":-1.55},{"r":-3.3,"t":1,"v":-1.45},{"r":-3.3,"t":2.5,"v":-0.8},{"r":-3.3,"t":4,"v":-0.6},{"r":-3.3,"t":5.5,"v":-0.57},{"r":-3.3,"t":6.5,"v":-0.6},{"r":-3.3,"t":7.5,"v":-0.2},{"r":-3.3,"t":8.3,"v":0.2},{"r":-3.3,"t":9,"v":0.38},{"r":-3.3,"t":10,"v":0},{"r":-3.3,"t":11,"v":-0.2},{"r":-3.3,"t":12.5,"v":0},{"r":-3.3,"t":16,"v":0.47},{"r":-3.3,"t":18,"v":0.3},{"r":-3.3,"t":20,"v":-0.2},{"r":-3.3,"t":22,"v":-0.55},{"r":-3.3,"t":23.4,"v":0.88},{"r":-3.3,"t":24.6,"v":0},{"r":-3.3,"t":26,"v":-0.35},{"r":-3.3,"t":28,"v":-0.5},{"r":-3.3,"t":30,"v":-0.05},{"r":-3.3,"t":32,"v":0.1},{"r":-3.3,"t":34,"v":0},{"r":-3.3,"t":36,"v":-0.3},{"r":-3.3,"t":38.3,"v":0.42},{"r":-3.3,"t":41,"v":-0.18},{"r":-3.3,"t":45.1,"v":0.1},{"r":-3.3,"t":48,"v":-0.15},{"r":-3.3,"t":50.7,"v":-0.33},{"r":-3.3,"t":52.8,"v":0.63},{"r":-3.3,"t":54.5,"v":-0.05},{"r":-3.3,"t":56,"v":-0.12},{"r":-3.3,"t":60,"v":0.15},{"r":-3.3,"t":62.5,"v":0},{"r":-3.3,"t":65,"v":-0.38},{"r":-3.3,"t":67.3,"v":0.55},{"r":-3.3,"t":70,"v":-0.28},{"r":-3.3,"t":74.1,"v":0.18},{"r":-3.3,"t":76.5,"v":-0.05},{"r":-3.3,"t":79,"v":-0.4},{"r":-3.3,"t":81.9,"v":0.7},{"r":-3.3,"t":83.5,"v":-0.1},{"r":-3.3,"t":85.2,"v":-0.3},{"r":-3.3,"t":89,"v":0.18},{"r":-3.3,"t":91.5,"v":0},{"r":-3.3,"t":93.5,"v":-0.45},{"r":-3.3,"t":96.6,"v":0.65},{"r":-3.3,"t":99,"v":-0.48},{"r":-3.3,"t":103.5,"v":0.17},{"r":-3.3,"t":106,"v":-0.1},{"r":-3.3,"t":108.4,"v":-0.45},{"r":-3.3,"t":111,"v":0.65},{"r":-3.3,"t":112.5,"v":-0.2},{"r":-3.3,"t":114.4,"v":-0.5},{"r":-3.3,"t":118.5,"v":0.1},{"r":-3.3,"t":121,"v":-0.1},{"r":-3.3,"t":123,"v":-0.4},{"r":-3.3,"t":125.9,"v":0.6},{"r":-3.3,"t":128.5,"v":-0.48},{"r":-3.3,"t":132.8,"v":0.03},{"r":-3.3,"t":136,"v":-0.15},{"r":-3.3,"t":138.2,"v":-0.3},{"r":-3.3,"t":141,"v":0.45},{"r":-3.3,"t":143.4,"v":-0.52},{"r":-3.3,"t":147.4,"v":-0.03},
      {"r":-2.6,"t":0,"v":-1.45},{"r":-2.6,"t":1,"v":-1.4},{"r":-2.6,"t":2.5,"v":-0.8},{"r":-2.6,"t":4,"v":-0.6},{"r":-2.6,"t":5.5,"v":-0.57},{"r":-2.6,"t":6.5,"v":-0.6},{"r":-2.6,"t":7.5,"v":-0.2},{"r":-2.6,"t":8.3,"v":0.3},{"r":-2.6,"t":9,"v":0.68},{"r":-2.6,"t":10,"v":0.2},{"r":-2.6,"t":11,"v":-0.18},{"r":-2.6,"t":12.5,"v":0},{"r":-2.6,"t":16,"v":0.67},{"r":-2.6,"t":18,"v":0.4},{"r":-2.6,"t":20,"v":-0.2},{"r":-2.6,"t":22,"v":-0.55},{"r":-2.6,"t":23.4,"v":0.9},{"r":-2.6,"t":24.6,"v":0},{"r":-2.6,"t":26,"v":-0.35},{"r":-2.6,"t":28,"v":-0.6},{"r":-2.6,"t":30,"v":-0.1},{"r":-2.6,"t":32,"v":0.1},{"r":-2.6,"t":34,"v":0},{"r":-2.6,"t":36,"v":-0.3},{"r":-2.6,"t":38.3,"v":0.6},{"r":-2.6,"t":41,"v":-0.15},{"r":-2.6,"t":45.1,"v":0.25},{"r":-2.6,"t":48,"v":-0.1},{"r":-2.6,"t":50.7,"v":-0.33},{"r":-2.6,"t":52.8,"v":0.65},{"r":-2.6,"t":54.5,"v":-0.1},{"r":-2.6,"t":56,"v":-0.15},{"r":-2.6,"t":60,"v":0.2},{"r":-2.6,"t":62.5,"v":0},{"r":-2.6,"t":65,"v":-0.4},{"r":-2.6,"t":67.3,"v":0.65},{"r":-2.6,"t":70,"v":-0.25},{"r":-2.6,"t":74.1,"v":0.25},{"r":-2.6,"t":76.5,"v":0},{"r":-2.6,"t":79,"v":-0.4},{"r":-2.6,"t":81.9,"v":0.72},{"r":-2.6,"t":83.5,"v":-0.1},{"r":-2.6,"t":85.2,"v":-0.3},{"r":-2.6,"t":89,"v":0.18},{"r":-2.6,"t":91.5,"v":0},{"r":-2.6,"t":93.5,"v":-0.45},{"r":-2.6,"t":96.6,"v":0.7},{"r":-2.6,"t":99,"v":-0.5},{"r":-2.6,"t":103.5,"v":0.15},{"r":-2.6,"t":106,"v":-0.1},{"r":-2.6,"t":108.4,"v":-0.45},{"r":-2.6,"t":111,"v":0.68},{"r":-2.6,"t":112.5,"v":-0.2},{"r":-2.6,"t":114.4,"v":-0.5},{"r":-2.6,"t":118.5,"v":0.1},{"r":-2.6,"t":121,"v":-0.1},{"r":-2.6,"t":123,"v":-0.4},{"r":-2.6,"t":125.9,"v":0.65},{"r":-2.6,"t":128.5,"v":-0.5},{"r":-2.6,"t":132.8,"v":0.05},{"r":-2.6,"t":136,"v":-0.15},{"r":-2.6,"t":138.2,"v":-0.3},{"r":-2.6,"t":141,"v":0.47},{"r":-2.6,"t":143.4,"v":-0.55},{"r":-2.6,"t":147.4,"v":-0.02},
      {"r":-1.6,"t":0,"v":-1.3},{"r":-1.6,"t":1,"v":-1.35},{"r":-1.6,"t":2.5,"v":-0.8},{"r":-1.6,"t":4,"v":-0.6},{"r":-1.6,"t":5.5,"v":-0.57},{"r":-1.6,"t":6.5,"v":-0.6},{"r":-1.6,"t":7.5,"v":-0.2},{"r":-1.6,"t":8.2,"v":0.4},{"r":-1.6,"t":9.2,"v":1.13},{"r":-1.6,"t":10.5,"v":0.6},{"r":-1.6,"t":12,"v":0.35},{"r":-1.6,"t":13,"v":0.4},{"r":-1.6,"t":16,"v":1.13},{"r":-1.6,"t":18,"v":0.8},{"r":-1.6,"t":20,"v":-0.1},{"r":-1.6,"t":22,"v":-0.5},{"r":-1.6,"t":23.4,"v":0.7},{"r":-1.6,"t":24.5,"v":0.1},{"r":-1.6,"t":26,"v":-0.35},{"r":-1.6,"t":29,"v":-0.73},{"r":-1.6,"t":31,"v":-0.3},{"r":-1.6,"t":33.2,"v":-0.05},{"r":-1.6,"t":36,"v":-0.35},{"r":-1.6,"t":38.3,"v":0.7},{"r":-1.6,"t":40.9,"v":0.3},{"r":-1.6,"t":45.1,"v":0.55},{"r":-1.6,"t":48,"v":0.1},{"r":-1.6,"t":50.7,"v":-0.3},{"r":-1.6,"t":52.7,"v":0.55},{"r":-1.6,"t":54,"v":0.05},{"r":-1.6,"t":56,"v":-0.4},{"r":-1.6,"t":58.5,"v":-0.15},{"r":-1.6,"t":60.5,"v":0.03},{"r":-1.6,"t":63,"v":-0.2},{"r":-1.6,"t":64.5,"v":-0.4},{"r":-1.6,"t":67.3,"v":0.6},{"r":-1.6,"t":69.9,"v":-0.05},{"r":-1.6,"t":74.1,"v":0.28},{"r":-1.6,"t":76.5,"v":0},{"r":-1.6,"t":78.8,"v":-0.3},{"r":-1.6,"t":81.8,"v":0.6},{"r":-1.6,"t":83.5,"v":-0.2},{"r":-1.6,"t":85.4,"v":-0.5},{"r":-1.6,"t":88.5,"v":0.02},{"r":-1.6,"t":90.5,"v":-0.05},{"r":-1.6,"t":93.3,"v":-0.45},{"r":-1.6,"t":96.6,"v":0.75},{"r":-1.6,"t":99,"v":-0.5},{"r":-1.6,"t":103.4,"v":0.15},{"r":-1.6,"t":106,"v":-0.1},{"r":-1.6,"t":108.4,"v":-0.4},{"r":-1.6,"t":111,"v":0.28},{"r":-1.6,"t":114.4,"v":-0.65},{"r":-1.6,"t":117,"v":-0.45},{"r":-1.6,"t":120,"v":-0.35},{"r":-1.6,"t":123,"v":-0.5},{"r":-1.6,"t":125.9,"v":0.6},{"r":-1.6,"t":128.4,"v":-0.6},{"r":-1.6,"t":132.8,"v":0.05},{"r":-1.6,"t":136,"v":-0.1},{"r":-1.6,"t":138.1,"v":-0.28},{"r":-1.6,"t":140.7,"v":0.2},{"r":-1.6,"t":143.4,"v":-0.6},{"r":-1.6,"t":147.4,"v":-0.33},
      {"r":-0.8,"t":0,"v":-1.2},{"r":-0.8,"t":1,"v":-1.3},{"r":-0.8,"t":2.5,"v":-0.8},{"r":-0.8,"t":4,"v":-0.6},{"r":-0.8,"t":5.5,"v":-0.57},{"r":-0.8,"t":6.5,"v":-0.6},{"r":-0.8,"t":7.5,"v":-0.2},{"r":-0.8,"t":8.2,"v":0.4},{"r":-0.8,"t":9.2,"v":1.35},{"r":-0.8,"t":10.5,"v":0.85},{"r":-0.8,"t":12,"v":0.4},{"r":-0.8,"t":13,"v":0.45},{"r":-0.8,"t":16,"v":1.42},{"r":-0.8,"t":18,"v":1.05},{"r":-0.8,"t":20,"v":0},{"r":-0.8,"t":22,"v":-0.55},{"r":-0.8,"t":23.5,"v":0.2},{"r":-0.8,"t":24.3,"v":0.25},{"r":-0.8,"t":26,"v":-0.4},{"r":-0.8,"t":29,"v":-0.98},{"r":-0.8,"t":33,"v":-0.45},{"r":-0.8,"t":36,"v":-0.42},{"r":-0.8,"t":38.3,"v":0.88},{"r":-0.8,"t":40.9,"v":0.33},{"r":-0.8,"t":45.1,"v":1.03},{"r":-0.8,"t":48,"v":0.4},{"r":-0.8,"t":50.7,"v":-0.25},{"r":-0.8,"t":53,"v":0.05},{"r":-0.8,"t":55,"v":-0.4},{"r":-0.8,"t":58,"v":-0.74},{"r":-0.8,"t":61,"v":-0.5},{"r":-0.8,"t":63.6,"v":-0.48},{"r":-0.8,"t":67.3,"v":0.78},{"r":-0.8,"t":69.9,"v":0.05},{"r":-0.8,"t":74.1,"v":0.78},{"r":-0.8,"t":76.5,"v":0.3},{"r":-0.8,"t":78.8,"v":-0.22},{"r":-0.8,"t":81.8,"v":0.15},{"r":-0.8,"t":85.4,"v":-0.72},{"r":-0.8,"t":88,"v":-0.5},{"r":-0.8,"t":90,"v":-0.52},{"r":-0.8,"t":93.3,"v":-0.57},{"r":-0.8,"t":96.6,"v":0.85},{"r":-0.8,"t":99,"v":-0.4},{"r":-0.8,"t":103.4,"v":0.58},{"r":-0.8,"t":106,"v":0.2},{"r":-0.8,"t":108.4,"v":-0.25},{"r":-0.8,"t":111,"v":0.25},{"r":-0.8,"t":114.4,"v":-0.75},{"r":-0.8,"t":117,"v":-0.6},{"r":-0.8,"t":119,"v":-0.65},{"r":-0.8,"t":123,"v":-0.55},{"r":-0.8,"t":125.9,"v":0.72},{"r":-0.8,"t":128.2,"v":-0.35},{"r":-0.8,"t":132.8,"v":0.42},{"r":-0.8,"t":136,"v":0.05},{"r":-0.8,"t":138.1,"v":-0.08},{"r":-0.8,"t":140,"v":0.15},{"r":-0.8,"t":143.4,"v":-0.65},{"r":-0.8,"t":147.4,"v":-0.57},
      {"r":4.9,"t":0,"v":-1.1},{"r":4.9,"t":1,"v":-1.25},{"r":4.9,"t":2.5,"v":-0.8},{"r":4.9,"t":4,"v":-0.6},{"r":4.9,"t":5.5,"v":-0.57},{"r":4.9,"t":6.5,"v":-0.6},{"r":4.9,"t":7.5,"v":-0.2},{"r":4.9,"t":8.2,"v":0.4},{"r":4.9,"t":9.2,"v":1.4},{"r":4.9,"t":10.5,"v":0.9},{"r":4.9,"t":12,"v":0.45},{"r":4.9,"t":13,"v":0.45},{"r":4.9,"t":14.5,"v":1.1},{"r":4.9,"t":16,"v":1.48},{"r":4.9,"t":18,"v":1.1},{"r":4.9,"t":20,"v":0},{"r":4.9,"t":22,"v":-0.6},{"r":4.9,"t":23.4,"v":0.05},{"r":4.9,"t":24.3,"v":0.2},{"r":4.9,"t":26,"v":-0.4},{"r":4.9,"t":29,"v":-1.07},{"r":4.9,"t":31,"v":-0.7},{"r":4.9,"t":33.2,"v":-0.43},{"r":4.9,"t":36,"v":-0.42},{"r":4.9,"t":38.3,"v":0.97},{"r":4.9,"t":40.9,"v":0.41},{"r":4.9,"t":45.1,"v":1.19},{"r":4.9,"t":48,"v":0.5},{"r":4.9,"t":50.7,"v":-0.27},{"r":4.9,"t":53,"v":-0.06},{"r":4.9,"t":55.5,"v":-0.6},{"r":4.9,"t":58,"v":-0.9},{"r":4.9,"t":61,"v":-0.7},{"r":4.9,"t":63.6,"v":-0.55},{"r":4.9,"t":65.5,"v":0.2},{"r":4.9,"t":67.3,"v":0.89},{"r":4.9,"t":69.9,"v":0.06},{"r":4.9,"t":74.1,"v":1.0},{"r":4.9,"t":76.5,"v":0.4},{"r":4.9,"t":78.8,"v":-0.19},{"r":4.9,"t":81.8,"v":0.06},{"r":4.9,"t":85.4,"v":-0.83},{"r":4.9,"t":90,"v":-0.75},{"r":4.9,"t":93.3,"v":-0.62},{"r":4.9,"t":96.6,"v":0.89},{"r":4.9,"t":99,"v":-0.25},{"r":4.9,"t":103.4,"v":0.84},{"r":4.9,"t":106,"v":0.3},{"r":4.9,"t":108.4,"v":-0.17},{"r":4.9,"t":111,"v":0.18},{"r":4.9,"t":114.4,"v":-0.85},{"r":4.9,"t":119,"v":-0.71},{"r":4.9,"t":123,"v":-0.59},{"r":4.9,"t":125.9,"v":0.76},{"r":4.9,"t":128.2,"v":-0.31},{"r":4.9,"t":132.8,"v":0.7},{"r":4.9,"t":136,"v":0.15},{"r":4.9,"t":138.1,"v":-0.1},{"r":4.9,"t":140,"v":0.06},{"r":4.9,"t":143.4,"v":-0.71},{"r":4.9,"t":147.4,"v":-0.6}
    ],
    "E": [
      {"r":-3.3,"t":0,"v":1.8},{"r":-3.3,"t":7.8,"v":-1.6},{"r":-3.3,"t":15.5,"v":3.3},{"r":-3.3,"t":23.5,"v":-3.6},{"r":-3.3,"t":31.8,"v":4.55},{"r":-3.3,"t":39,"v":-4.6},{"r":-3.3,"t":47.2,"v":5.4},{"r":-3.3,"t":54.8,"v":-5.7},{"r":-3.3,"t":63,"v":6.0},{"r":-3.3,"t":70.2,"v":-6.4},{"r":-3.3,"t":78.5,"v":6.35},{"r":-3.3,"t":85.5,"v":-6.8},{"r":-3.3,"t":93.3,"v":6.3},{"r":-3.3,"t":100,"v":-6.8},{"r":-3.3,"t":108,"v":5.9},{"r":-3.3,"t":115,"v":-6.4},{"r":-3.3,"t":123,"v":5.0},{"r":-3.3,"t":131,"v":-5.5},{"r":-3.3,"t":138.8,"v":4.1},{"r":-3.3,"t":147.3,"v":-4.7},
      {"r":-2.6,"t":0,"v":1.8},{"r":-2.6,"t":7.9,"v":-1.7},{"r":-2.6,"t":15.8,"v":3.5},{"r":-2.6,"t":23.7,"v":-3.7},{"r":-2.6,"t":32.2,"v":4.6},{"r":-2.6,"t":39.3,"v":-4.4},{"r":-2.6,"t":47.4,"v":5.2},{"r":-2.6,"t":55,"v":-5.6},{"r":-2.6,"t":63.2,"v":5.7},{"r":-2.6,"t":70.5,"v":-5.8},{"r":-2.6,"t":78.7,"v":6.2},{"r":-2.6,"t":85.8,"v":-6.3},{"r":-2.6,"t":93.6,"v":6.2},{"r":-2.6,"t":100.3,"v":-6.5},{"r":-2.6,"t":108.2,"v":5.9},{"r":-2.6,"t":115.3,"v":-6.3},{"r":-2.6,"t":123.3,"v":4.9},{"r":-2.6,"t":131.3,"v":-5.4},{"r":-2.6,"t":139,"v":4.0},{"r":-2.6,"t":147.3,"v":-4.6},
      {"r":-1.6,"t":0,"v":1.8},{"r":-1.6,"t":8.1,"v":-1.8},{"r":-1.6,"t":16.5,"v":3.9},{"r":-1.6,"t":23.9,"v":-3.9},{"r":-1.6,"t":33,"v":4.0},{"r":-1.6,"t":39.7,"v":-4.1},{"r":-1.6,"t":47.8,"v":5.0},{"r":-1.6,"t":55.2,"v":-5.2},{"r":-1.6,"t":63.6,"v":5.2},{"r":-1.6,"t":70.8,"v":-5.6},{"r":-1.6,"t":79,"v":5.3},{"r":-1.6,"t":86.2,"v":-5.7},{"r":-1.6,"t":94,"v":4.9},{"r":-1.6,"t":100.8,"v":-5.3},{"r":-1.6,"t":108.6,"v":4.2},{"r":-1.6,"t":116,"v":-4.7},{"r":-1.6,"t":124.3,"v":3.4},{"r":-1.6,"t":132,"v":-3.9},{"r":-1.6,"t":139.5,"v":2.6},{"r":-1.6,"t":147.4,"v":-3.2},
      {"r":-0.8,"t":0,"v":1.8},{"r":-0.8,"t":8.3,"v":-1.9},{"r":-0.8,"t":16.9,"v":3.7},{"r":-0.8,"t":24,"v":-4.15},{"r":-0.8,"t":33.5,"v":3.1},{"r":-0.8,"t":40,"v":-3.8},{"r":-0.8,"t":48,"v":4.9},{"r":-0.8,"t":55.3,"v":-5.0},{"r":-0.8,"t":64,"v":4.0},{"r":-0.8,"t":71,"v":-4.5},{"r":-0.8,"t":79.3,"v":4.7},{"r":-0.8,"t":86.5,"v":-4.9},{"r":-0.8,"t":94.3,"v":3.6},{"r":-0.8,"t":101,"v":-4.0},{"r":-0.8,"t":109,"v":3.4},{"r":-0.8,"t":116.7,"v":-3.9},{"r":-0.8,"t":125,"v":2.5},{"r":-0.8,"t":132.3,"v":-2.9},{"r":-0.8,"t":140,"v":1.95},{"r":-0.8,"t":147.4,"v":-2.7},
      {"r":4.9,"t":0,"v":1.83},{"r":4.9,"t":8.6,"v":-2.1},{"r":4.9,"t":17.3,"v":4.28},{"r":4.9,"t":24.1,"v":-3.83},{"r":4.9,"t":34.1,"v":2.9},{"r":4.9,"t":40.2,"v":-3.5},{"r":4.9,"t":48.1,"v":5.0},{"r":4.9,"t":55.5,"v":-4.8},{"r":4.9,"t":64.4,"v":3.7},{"r":4.9,"t":71.1,"v":-4.3},{"r":4.9,"t":79.3,"v":4.55},{"r":4.9,"t":86.2,"v":-4.8},{"r":4.9,"t":94.3,"v":3.4},{"r":4.9,"t":101.2,"v":-3.8},{"r":4.9,"t":109.1,"v":3.3},{"r":4.9,"t":116.9,"v":-3.8},{"r":4.9,"t":125,"v":2.4},{"r":4.9,"t":132.5,"v":-2.6},{"r":4.9,"t":140.2,"v":1.85},{"r":4.9,"t":147.3,"v":-2.6}
    ],
    "F": [
      {"r":-3.3,"t":0,"v":1.8},{"r":-3.3,"t":3.5,"v":1.5},{"r":-3.3,"t":5.8,"v":1.85},{"r":-3.3,"t":7,"v":-1},{"r":-3.3,"t":8.6,"v":-4.9},{"r":-3.3,"t":10,"v":-3.5},{"r":-3.3,"t":12.5,"v":-2.6},{"r":-3.3,"t":15,"v":-1.5},{"r":-3.3,"t":18,"v":1.5},{"r":-3.3,"t":21.1,"v":5.25},{"r":-3.3,"t":22.5,"v":1.5},{"r":-3.3,"t":24.7,"v":-4.35},{"r":-3.3,"t":27,"v":-2.2},{"r":-3.3,"t":30,"v":-0.5},{"r":-3.3,"t":33,"v":1.5},{"r":-3.3,"t":35.2,"v":2.9},{"r":-3.3,"t":37,"v":1.8},{"r":-3.3,"t":39,"v":-2.8},{"r":-3.3,"t":41,"v":-2.0},{"r":-3.3,"t":44,"v":-1.0},{"r":-3.3,"t":47,"v":1.5},{"r":-3.3,"t":50,"v":2.85},{"r":-3.3,"t":52,"v":0.5},{"r":-3.3,"t":53.7,"v":-3.6},{"r":-3.3,"t":56,"v":-1.5},{"r":-3.3,"t":60,"v":1.5},{"r":-3.3,"t":64.4,"v":4.25},{"r":-3.3,"t":66,"v":2},{"r":-3.3,"t":68.2,"v":-4.7},{"r":-3.3,"t":71,"v":-2.5},{"r":-3.3,"t":75,"v":1.0},{"r":-3.3,"t":78.9,"v":4.6},{"r":-3.3,"t":80.5,"v":2.5},{"r":-3.3,"t":82.5,"v":-5.5},{"r":-3.3,"t":85,"v":-3},{"r":-3.3,"t":89,"v":1.0},{"r":-3.3,"t":93.5,"v":4.7},{"r":-3.3,"t":95.5,"v":1.5},{"r":-3.3,"t":97.2,"v":-5.6},{"r":-3.3,"t":100,"v":-2.5},{"r":-3.3,"t":103,"v":1.0},{"r":-3.3,"t":106,"v":2.0},{"r":-3.3,"t":108.5,"v":4.5},{"r":-3.3,"t":110,"v":1.5},{"r":-3.3,"t":111.7,"v":-5.2},{"r":-3.3,"t":114,"v":-2.5},{"r":-3.3,"t":117,"v":1.2},{"r":-3.3,"t":119,"v":1.6},{"r":-3.3,"t":121,"v":2.2},{"r":-3.3,"t":123,"v":3.3},{"r":-3.3,"t":124.5,"v":1.0},{"r":-3.3,"t":126.5,"v":-4.3},{"r":-3.3,"t":129,"v":-1.5},{"r":-3.3,"t":132,"v":1.3},{"r":-3.3,"t":135,"v":1.6},{"r":-3.3,"t":137.9,"v":2.2},{"r":-3.3,"t":139.5,"v":0.5},{"r":-3.3,"t":141.2,"v":-3.2},{"r":-3.3,"t":144,"v":-0.8},{"r":-3.3,"t":147.3,"v":1.2},
      {"r":-2.6,"t":0,"v":1.7},{"r":-2.6,"t":3.5,"v":1.4},{"r":-2.6,"t":5.8,"v":1.8},{"r":-2.6,"t":7.2,"v":-1.5},{"r":-2.6,"t":9,"v":-5.5},{"r":-2.6,"t":10.5,"v":-4.0},{"r":-2.6,"t":12.5,"v":-2.8},{"r":-2.6,"t":15,"v":-1.8},{"r":-2.6,"t":18,"v":1.5},{"r":-2.6,"t":21.1,"v":5.3},{"r":-2.6,"t":22.6,"v":1.0},{"r":-2.6,"t":24.7,"v":-4.37},{"r":-2.6,"t":27,"v":-2.2},{"r":-2.6,"t":30,"v":-0.4},{"r":-2.6,"t":33,"v":1.6},{"r":-2.6,"t":35,"v":2.88},{"r":-2.6,"t":36.8,"v":1.0},{"r":-2.6,"t":39.2,"v":-3.9},{"r":-2.6,"t":41.5,"v":-2.2},{"r":-2.6,"t":44.5,"v":-1.0},{"r":-2.6,"t":47.5,"v":1.5},{"r":-2.6,"t":49.9,"v":3.8},{"r":-2.6,"t":51.5,"v":1.0},{"r":-2.6,"t":53.7,"v":-4.6},{"r":-2.6,"t":56,"v":-2.0},{"r":-2.6,"t":60,"v":1.5},{"r":-2.6,"t":64.4,"v":4.0},{"r":-2.6,"t":66,"v":1.0},{"r":-2.6,"t":68.2,"v":-4.9},{"r":-2.6,"t":71,"v":-2.5},{"r":-2.6,"t":75,"v":1.5},{"r":-2.6,"t":78.9,"v":4.4},{"r":-2.6,"t":80.7,"v":1.5},{"r":-2.6,"t":82.6,"v":-5.5},{"r":-2.6,"t":85,"v":-2.8},{"r":-2.6,"t":89,"v":1.0},{"r":-2.6,"t":93.7,"v":4.5},{"r":-2.6,"t":95.5,"v":1.0},{"r":-2.6,"t":97.2,"v":-5.5},{"r":-2.6,"t":100,"v":-2.5},{"r":-2.6,"t":103,"v":0.5},{"r":-2.6,"t":106,"v":1.8},{"r":-2.6,"t":108.6,"v":4.1},{"r":-2.6,"t":110,"v":1.0},{"r":-2.6,"t":111.8,"v":-5.2},{"r":-2.6,"t":114,"v":-2.5},{"r":-2.6,"t":117,"v":1.2},{"r":-2.6,"t":119,"v":1.6},{"r":-2.6,"t":121,"v":1.5},{"r":-2.6,"t":123,"v":1.6},{"r":-2.6,"t":124.8,"v":-1.0},{"r":-2.6,"t":126.6,"v":-4.2},{"r":-2.6,"t":129,"v":-1.5},{"r":-2.6,"t":132,"v":1.2},{"r":-2.6,"t":135,"v":1.5},{"r":-2.6,"t":137,"v":1.5},{"r":-2.6,"t":138.5,"v":1.0},{"r":-2.6,"t":141,"v":-2.1},{"r":-2.6,"t":144,"v":-0.5},{"r":-2.6,"t":147.3,"v":1.2},
      {"r":-1.6,"t":0,"v":1.75},{"r":-1.6,"t":3.5,"v":1.45},{"r":-1.6,"t":5.8,"v":1.85},{"r":-1.6,"t":7.3,"v":-2.0},{"r":-1.6,"t":9.5,"v":-6.4},{"r":-1.6,"t":12,"v":-4.5},{"r":-1.6,"t":15,"v":-1.2},{"r":-1.6,"t":18,"v":2.8},{"r":-1.6,"t":21.1,"v":4.8},{"r":-1.6,"t":22.8,"v":1.0},{"r":-1.6,"t":24.7,"v":-3.0},{"r":-1.6,"t":27.5,"v":-1.2},{"r":-1.6,"t":30,"v":0.3},{"r":-1.6,"t":33,"v":1.3},{"r":-1.6,"t":35.3,"v":2.5},{"r":-1.6,"t":37,"v":0},{"r":-1.6,"t":39.3,"v":-4.7},{"r":-1.6,"t":42,"v":-2.5},{"r":-1.6,"t":45,"v":-0.5},{"r":-1.6,"t":47.5,"v":2.0},{"r":-1.6,"t":49.9,"v":3.6},{"r":-1.6,"t":51.5,"v":0.5},{"r":-1.6,"t":53.7,"v":-3.8},{"r":-1.6,"t":56,"v":-1.5},{"r":-1.6,"t":60,"v":1.5},{"r":-1.6,"t":64.4,"v":3.3},{"r":-1.6,"t":66,"v":0},{"r":-1.6,"t":68,"v":-5.3},{"r":-1.6,"t":70,"v":-3.5},{"r":-1.6,"t":74,"v":0.5},{"r":-1.6,"t":77,"v":2.8},{"r":-1.6,"t":79,"v":3.6},{"r":-1.6,"t":80.7,"v":1.0},{"r":-1.6,"t":82.8,"v":-4.2},{"r":-1.6,"t":85,"v":-1.5},{"r":-1.6,"t":88.5,"v":1.6},{"r":-1.6,"t":91,"v":1.3},{"r":-1.6,"t":93.7,"v":3.0},{"r":-1.6,"t":95.3,"v":0},{"r":-1.6,"t":97.2,"v":-4.4},{"r":-1.6,"t":99.5,"v":-2.5},{"r":-1.6,"t":103,"v":0.8},{"r":-1.6,"t":106,"v":1.9},{"r":-1.6,"t":108.5,"v":2.5},{"r":-1.6,"t":110,"v":0},{"r":-1.6,"t":111.7,"v":-3.6},{"r":-1.6,"t":114,"v":-1.0},{"r":-1.6,"t":117,"v":1.6},{"r":-1.6,"t":120,"v":1.45},{"r":-1.6,"t":122.9,"v":1.69},{"r":-1.6,"t":124.8,"v":-0.5},{"r":-1.6,"t":126.5,"v":-3.2},{"r":-1.6,"t":129,"v":-1.0},{"r":-1.6,"t":131.5,"v":1.2},{"r":-1.6,"t":133.5,"v":1.5},{"r":-1.6,"t":136.9,"v":0.8},{"r":-1.6,"t":138.5,"v":0.9},{"r":-1.6,"t":140.9,"v":-0.7},{"r":-1.6,"t":144,"v":0.3},{"r":-1.6,"t":147.3,"v":1.3},
      {"r":-0.8,"t":0,"v":1.78},{"r":-0.8,"t":3.5,"v":1.3},{"r":-0.8,"t":5.8,"v":1.85},{"r":-0.8,"t":7.5,"v":-2.2},{"r":-0.8,"t":9.9,"v":-7.0},{"r":-0.8,"t":12,"v":-5.6},{"r":-0.8,"t":15,"v":-1.5},{"r":-0.8,"t":18,"v":2.6},{"r":-0.8,"t":21.1,"v":4.6},{"r":-0.8,"t":22.8,"v":2.0},{"r":-0.8,"t":24.7,"v":-0.9},{"r":-0.8,"t":28.6,"v":0.85},{"r":-0.8,"t":31.2,"v":0.8},{"r":-0.8,"t":35,"v":1.8},{"r":-0.8,"t":37,"v":-2.3},{"r":-0.8,"t":39.3,"v":-5.8},{"r":-0.8,"t":42,"v":-4.0},{"r":-0.8,"t":45,"v":-0.5},{"r":-0.8,"t":47.5,"v":2.3},{"r":-0.8,"t":49.9,"v":3.9},{"r":-0.8,"t":51.5,"v":1.8},{"r":-0.8,"t":53.7,"v":-1.3},{"r":-0.8,"t":58,"v":1.4},{"r":-0.8,"t":61,"v":1.2},{"r":-0.8,"t":64.4,"v":2.0},{"r":-0.8,"t":66,"v":-1.8},{"r":-0.8,"t":68,"v":-5.3},{"r":-0.8,"t":70,"v":-4.0},{"r":-0.8,"t":74,"v":0},{"r":-0.8,"t":77,"v":2.9},{"r":-0.8,"t":79,"v":3.7},{"r":-0.8,"t":80.7,"v":1.5},{"r":-0.8,"t":82.5,"v":-1.7},{"r":-0.8,"t":87.5,"v":2.05},{"r":-0.8,"t":91.5,"v":1.2},{"r":-0.8,"t":94,"v":1.6},{"r":-0.8,"t":95.5,"v":-1.5},{"r":-0.8,"t":97.2,"v":-4.8},{"r":-0.8,"t":99.5,"v":-3.0},{"r":-0.8,"t":103,"v":0.5},{"r":-0.8,"t":106,"v":1.8},{"r":-0.8,"t":108.5,"v":2.4},{"r":-0.8,"t":110,"v":0.5},{"r":-0.8,"t":111.7,"v":-1.55},{"r":-0.8,"t":116.9,"v":2.2},{"r":-0.8,"t":121.4,"v":0.7},{"r":-0.8,"t":123.3,"v":0.55},{"r":-0.8,"t":124.8,"v":-1.5},{"r":-0.8,"t":126.5,"v":-3.5},{"r":-0.8,"t":129,"v":-2.0},{"r":-0.8,"t":131,"v":0.2},{"r":-0.8,"t":133,"v":1.2},{"r":-0.8,"t":136.9,"v":1.0},{"r":-0.8,"t":140.7,"v":0},{"r":-0.8,"t":145.9,"v":1.9},{"r":-0.8,"t":147.2,"v":1.6},
      {"r":4.9,"t":0,"v":1.82},{"r":4.9,"t":3.5,"v":1.32},{"r":4.9,"t":5.8,"v":1.87},{"r":4.9,"t":7.5,"v":-2},{"r":4.9,"t":9.9,"v":-7.12},{"r":4.9,"t":12,"v":-5.5},{"r":4.9,"t":15,"v":-1.5},{"r":4.9,"t":18,"v":2.5},{"r":4.9,"t":21.1,"v":4.5},{"r":4.9,"t":22.8,"v":2.0},{"r":4.9,"t":24.7,"v":-0.37},{"r":4.9,"t":28.6,"v":1.05},{"r":4.9,"t":31.2,"v":0.73},{"r":4.9,"t":35,"v":1.69},{"r":4.9,"t":37,"v":-2.5},{"r":4.9,"t":39.2,"v":-6.1},{"r":4.9,"t":42,"v":-4.0},{"r":4.9,"t":45,"v":-0.5},{"r":4.9,"t":47.5,"v":2.5},{"r":4.9,"t":49.9,"v":4.04},{"r":4.9,"t":51.5,"v":2.0},{"r":4.9,"t":53.7,"v":-0.57},{"r":4.9,"t":58.2,"v":1.83},{"r":4.9,"t":61.1,"v":1.14},{"r":4.9,"t":64.4,"v":1.72},{"r":4.9,"t":66,"v":-2},{"r":4.9,"t":67.9,"v":-5.9},{"r":4.9,"t":70,"v":-4.5},{"r":4.9,"t":74,"v":0},{"r":4.9,"t":77,"v":2.8},{"r":4.9,"t":78.9,"v":3.52},{"r":4.9,"t":80.7,"v":1.5},{"r":4.9,"t":82.5,"v":-0.92},{"r":4.9,"t":87.2,"v":2.6},{"r":4.9,"t":91.1,"v":1.05},{"r":4.9,"t":93,"v":1.23},{"r":4.9,"t":95,"v":-2.5},{"r":4.9,"t":97.2,"v":-5.4},{"r":4.9,"t":99.5,"v":-3.5},{"r":4.9,"t":103,"v":0.5},{"r":4.9,"t":106,"v":1.8},{"r":4.9,"t":108.5,"v":2.37},{"r":4.9,"t":110,"v":1.0},{"r":4.9,"t":111.7,"v":-0.7},{"r":4.9,"t":116.9,"v":2.79},{"r":4.9,"t":121.4,"v":0.28},{"r":4.9,"t":123.3,"v":0.22},{"r":4.9,"t":124.8,"v":-2.0},{"r":4.9,"t":126.5,"v":-4.3},{"r":4.9,"t":129,"v":-2.5},{"r":4.9,"t":131,"v":0},{"r":4.9,"t":133,"v":1.14},{"r":4.9,"t":136.9,"v":1.23},{"r":4.9,"t":140.7,"v":0.09},{"r":4.9,"t":145.9,"v":2.46},{"r":4.9,"t":147.2,"v":2.0}
    ]
  },
  "concat": [
    {
      "hconcat": [
        {
          "width": 385, "height": 246,
          "title": {"text": "A"},
          "data": {"name": "A"},
          "layer": [
            {
              "mark": "line",
              "encoding": {
                "x": {"field": "t", "type": "quantitative", "scale": {"domain": [0, 29.3], "nice": false}, "axis": {"values": [0, 5, 10, 15, 20, 25], "title": "Time [days]", "labelOverlap": false}},
                "y": {"field": "v", "type": "quantitative", "scale": {"domain": [-2.5, 1], "nice": false}, "axis": {"values": [-2.5, -2, -1.5, -1, -0.5, 0, 0.5, 1], "title": "Control acceleration [km/s²]", "labelOverlap": false}},
                "color": {"field": "r", "type": "quantitative", "scale": {"domain": [-4, -2.75, -0.25, 2.25, 4.75, 6], "range": ["#000080", "#0000ff", "#00ffff", "#ffff00", "#ff0000", "#800000"]},
                  "legend": {"title": "r", "values": [-4, -2, 0, 2, 4, 6], "labelExpr": "replace(datum.label, '\u2212', '-')", "labelBaseline": "middle", "gradientLength": 246, "gradientThickness": 9, "offset": 5, "titleOrient": "right", "titleAnchor": "middle", "titleFontSize": 18, "titleFontStyle": "italic", "titleFontWeight": "bold", "gradientStrokeColor": "#262626", "gradientStrokeWidth": 0.5}},
                "detail": {"field": "r"}
              }
            },
            {
              "data": {"values": [{}]},
              "mark": {"type": "text", "text": "×10⁻⁹"},
              "encoding": {"x": {"datum": 0, "type": "quantitative"}, "y": {"datum": 1, "type": "quantitative", "axis": {"values": [-2.5, -2, -1.5, -1, -0.5, 0, 0.5, 1], "labelOverlap": false}}}
            }
          ]
        },
        {
          "width": 359, "height": 226,
          "title": {"text": "B", "dx": -6, "dy": -8},
          "data": {"name": "B"},
          "layer": [
            {
              "mark": "line",
              "encoding": {
                "x": {"field": "t", "type": "quantitative", "scale": {"domain": [0, 150], "nice": false}, "axis": {"values": [0, 50, 100, 150], "title": "Time [days]", "labelOverlap": false}},
                "y": {"field": "v", "type": "quantitative", "scale": {"domain": [-1, 1], "nice": false}, "axis": {"values": [-1, -0.5, 0, 0.5, 1], "title": "f̃", "titleFontStyle": "italic", "titleFontSize": 18, "titlePadding": 9, "labelOverlap": false}},
                "color": {"field": "r", "type": "quantitative", "scale": {"domain": [-4, -2.75, -0.25, 2.25, 4.75, 6], "range": ["#000080", "#0000ff", "#00ffff", "#ffff00", "#ff0000", "#800000"]},
                  "legend": {"title": "r", "values": [-4, -2, 0, 2, 4, 6], "labelExpr": "replace(datum.label, '\u2212', '-')", "labelBaseline": "middle", "gradientLength": 226, "gradientThickness": 9, "offset": 14, "titleOrient": "right", "titleAnchor": "middle", "titleFontSize": 18, "titleFontStyle": "italic", "titleFontWeight": "bold", "gradientStrokeColor": "#262626", "gradientStrokeWidth": 0.5}},
                "strokeDash": {"field": "k", "type": "nominal", "scale": {"domain": ["x", "y"], "range": [[1, 0], [6, 4]]},
                  "legend": {"title": null, "orient": "top-right", "offset": 5, "fillColor": "white", "strokeColor": "#262626", "padding": 5, "symbolType": "stroke", "symbolSize": 400, "symbolStrokeWidth": 1.3, "symbolStrokeColor": "#1a1aff", "labelFontStyle": "italic", "labelFontSize": 17, "labelExpr": "datum.label == 'x' ? 'f̃ₓ' : 'f̃ᵧ'"}},
                "detail": {"field": "r"}
              }
            },
            {
              "data": {"values": [{}]},
              "mark": {"type": "text", "text": "×10⁻⁴"},
              "encoding": {"x": {"datum": 0, "type": "quantitative"}, "y": {"datum": 1, "type": "quantitative", "axis": {"values": [-1, -0.5, 0, 0.5, 1], "labelOverlap": false}}}
            }
          ]
        }
      ],
      "spacing": 38,
      "center": true,
      "resolve": {"scale": {"color": "independent", "strokeDash": "independent"}, "legend": {"color": "independent", "strokeDash": "independent"}}
    },
    {
      "hconcat": [
        {
          "width": 376, "height": 249,
          "title": {"text": "C"},
          "data": {"name": "C"},
          "layer": [
            {
              "mark": "line",
              "encoding": {
                "x": {"field": "t", "type": "quantitative", "scale": {"domain": [0, 150], "nice": false}, "axis": {"values": [0, 50, 100, 150], "title": "Time [days]", "labelOverlap": false}},
                "y": {"field": "v", "type": "quantitative", "scale": {"domain": [-1, 1.5], "nice": false}, "axis": {"values": [-1, -0.5, 0, 0.5, 1, 1.5], "title": "zᵤ", "titleFontStyle": "italic", "titleFontSize": 18, "labelOverlap": false}},
                "color": {"field": "r", "type": "quantitative", "scale": {"domain": [-4, -2.75, -0.25, 2.25, 4.75, 6], "range": ["#000080", "#0000ff", "#00ffff", "#ffff00", "#ff0000", "#800000"]},
                  "legend": {"title": "r", "values": [-4, -2, 0, 2, 4, 6], "labelExpr": "replace(datum.label, '\u2212', '-')", "labelBaseline": "middle", "gradientLength": 249, "gradientThickness": 9, "offset": 16, "titleOrient": "right", "titleAnchor": "middle", "titleFontSize": 18, "titleFontStyle": "italic", "titleFontWeight": "bold", "gradientStrokeColor": "#262626", "gradientStrokeWidth": 0.5}},
                "detail": {"field": "r"}
              }
            },
            {
              "data": {"values": [{}]},
              "mark": {"type": "text", "text": "×10⁻⁵"},
              "encoding": {"x": {"datum": 0, "type": "quantitative"}, "y": {"datum": 1.5, "type": "quantitative", "axis": {"values": [-1, -0.5, 0, 0.5, 1, 1.5], "labelOverlap": false}}}
            }
          ]
        },
        {
          "width": 379, "height": 249,
          "title": {"text": "D"},
          "data": {"name": "D"},
          "layer": [
            {
              "mark": "line",
              "encoding": {
                "x": {"field": "t", "type": "quantitative", "scale": {"domain": [0, 150], "nice": false}, "axis": {"values": [0, 50, 100, 150], "title": "Time [days]", "labelOverlap": false}},
                "y": {"field": "v", "type": "quantitative", "scale": {"domain": [-2, 1.5], "nice": false}, "axis": {"values": [-2, -1.5, -1, -0.5, 0, 0.5, 1, 1.5], "title": "zₛ", "titleFontStyle": "italic", "titleFontSize": 18, "labelOverlap": false}},
                "color": {"field": "r", "type": "quantitative", "scale": {"domain": [-4, -2.75, -0.25, 2.25, 4.75, 6], "range": ["#000080", "#0000ff", "#00ffff", "#ffff00", "#ff0000", "#800000"]},
                  "legend": {"title": "r", "values": [-4, -2, 0, 2, 4, 6], "labelExpr": "replace(datum.label, '\u2212', '-')", "labelBaseline": "middle", "gradientLength": 249, "gradientThickness": 9, "offset": 12, "titleOrient": "right", "titleAnchor": "middle", "titleFontSize": 18, "titleFontStyle": "italic", "titleFontWeight": "bold", "gradientStrokeColor": "#262626", "gradientStrokeWidth": 0.5}},
                "detail": {"field": "r"}
              }
            },
            {
              "data": {"values": [{}]},
              "mark": {"type": "text", "text": "×10⁻⁵"},
              "encoding": {"x": {"datum": 0, "type": "quantitative"}, "y": {"datum": 1.5, "type": "quantitative", "axis": {"values": [-2, -1.5, -1, -0.5, 0, 0.5, 1, 1.5], "labelOverlap": false}}}
            }
          ]
        }
      ],
      "spacing": 48,
      "center": true,
      "resolve": {"scale": {"color": "independent"}, "legend": {"color": "independent"}}
    },
    {
      "hconcat": [
        {
          "width": 375, "height": 255,
          "title": {"text": "E", "offset": -7},
          "data": {"name": "E"},
          "layer": [
            {
              "mark": "line",
              "encoding": {
                "x": {"field": "t", "type": "quantitative", "scale": {"domain": [0, 150], "nice": false}, "axis": {"values": [0, 50, 100, 150], "title": "Time [days]", "labelOverlap": false}},
                "y": {"field": "v", "type": "quantitative", "scale": {"domain": [-8, 8], "nice": false}, "axis": {"values": [-8, -6, -4, -2, 0, 2, 4, 6, 8], "title": "zc1", "titleFontStyle": "italic", "titleFontSize": 17, "labelOverlap": false}},
                "color": {"field": "r", "type": "quantitative", "scale": {"domain": [-4, -2.75, -0.25, 2.25, 4.75, 6], "range": ["#000080", "#0000ff", "#00ffff", "#ffff00", "#ff0000", "#800000"]},
                  "legend": {"title": "r", "values": [-4, -2, 0, 2, 4, 6], "labelExpr": "replace(datum.label, '\u2212', '-')", "labelBaseline": "middle", "gradientLength": 255, "gradientThickness": 9, "offset": 15, "titleOrient": "right", "titleAnchor": "middle", "titleFontSize": 18, "titleFontStyle": "italic", "titleFontWeight": "bold", "gradientStrokeColor": "#262626", "gradientStrokeWidth": 0.5}},
                "detail": {"field": "r"}
              }
            },
            {
              "data": {"values": [{}]},
              "mark": {"type": "text", "text": "×10⁻⁵"},
              "encoding": {"x": {"datum": 0, "type": "quantitative"}, "y": {"datum": 8, "type": "quantitative", "axis": {"values": [-8, -6, -4, -2, 0, 2, 4, 6, 8], "labelOverlap": false}}}
            }
          ]
        },
        {
          "width": 388, "height": 254,
          "title": {"text": "F", "offset": -7},
          "data": {"name": "F"},
          "layer": [
            {
              "mark": "line",
              "encoding": {
                "x": {"field": "t", "type": "quantitative", "scale": {"domain": [0, 150], "nice": false}, "axis": {"values": [0, 50, 100, 150], "title": "Time [days]", "labelOverlap": false}},
                "y": {"field": "v", "type": "quantitative", "scale": {"domain": [-8, 6], "nice": false}, "axis": {"values": [-8, -6, -4, -2, 0, 2, 4, 6], "title": "zc3", "titleFontStyle": "italic", "titleFontSize": 17, "labelOverlap": false}},
                "color": {"field": "r", "type": "quantitative", "scale": {"domain": [-4, -2.75, -0.25, 2.25, 4.75, 6], "range": ["#000080", "#0000ff", "#00ffff", "#ffff00", "#ff0000", "#800000"]},
                  "legend": {"title": "r", "values": [-4, -2, 0, 2, 4, 6], "labelExpr": "replace(datum.label, '\u2212', '-')", "labelBaseline": "middle", "gradientLength": 254, "gradientThickness": 9, "offset": 12, "titleOrient": "right", "titleAnchor": "middle", "titleFontSize": 18, "titleFontStyle": "italic", "titleFontWeight": "bold", "gradientStrokeColor": "#262626", "gradientStrokeWidth": 0.5}},
                "detail": {"field": "r"}
              }
            },
            {
              "data": {"values": [{}]},
              "mark": {"type": "text", "text": "×10⁻⁵"},
              "encoding": {"x": {"datum": 0, "type": "quantitative"}, "y": {"datum": 6, "type": "quantitative", "axis": {"values": [-8, -6, -4, -2, 0, 2, 4, 6], "labelOverlap": false}}}
            }
          ]
        }
      ],
      "spacing": 40,
      "center": true,
      "resolve": {"scale": {"color": "independent"}, "legend": {"color": "independent"}}
    }
  ],
  "columns": 1,
  "align": "none",
  "spacing": 28,
  "resolve": {"scale": {"color": "independent"}, "legend": {"color": "independent"}}
}
